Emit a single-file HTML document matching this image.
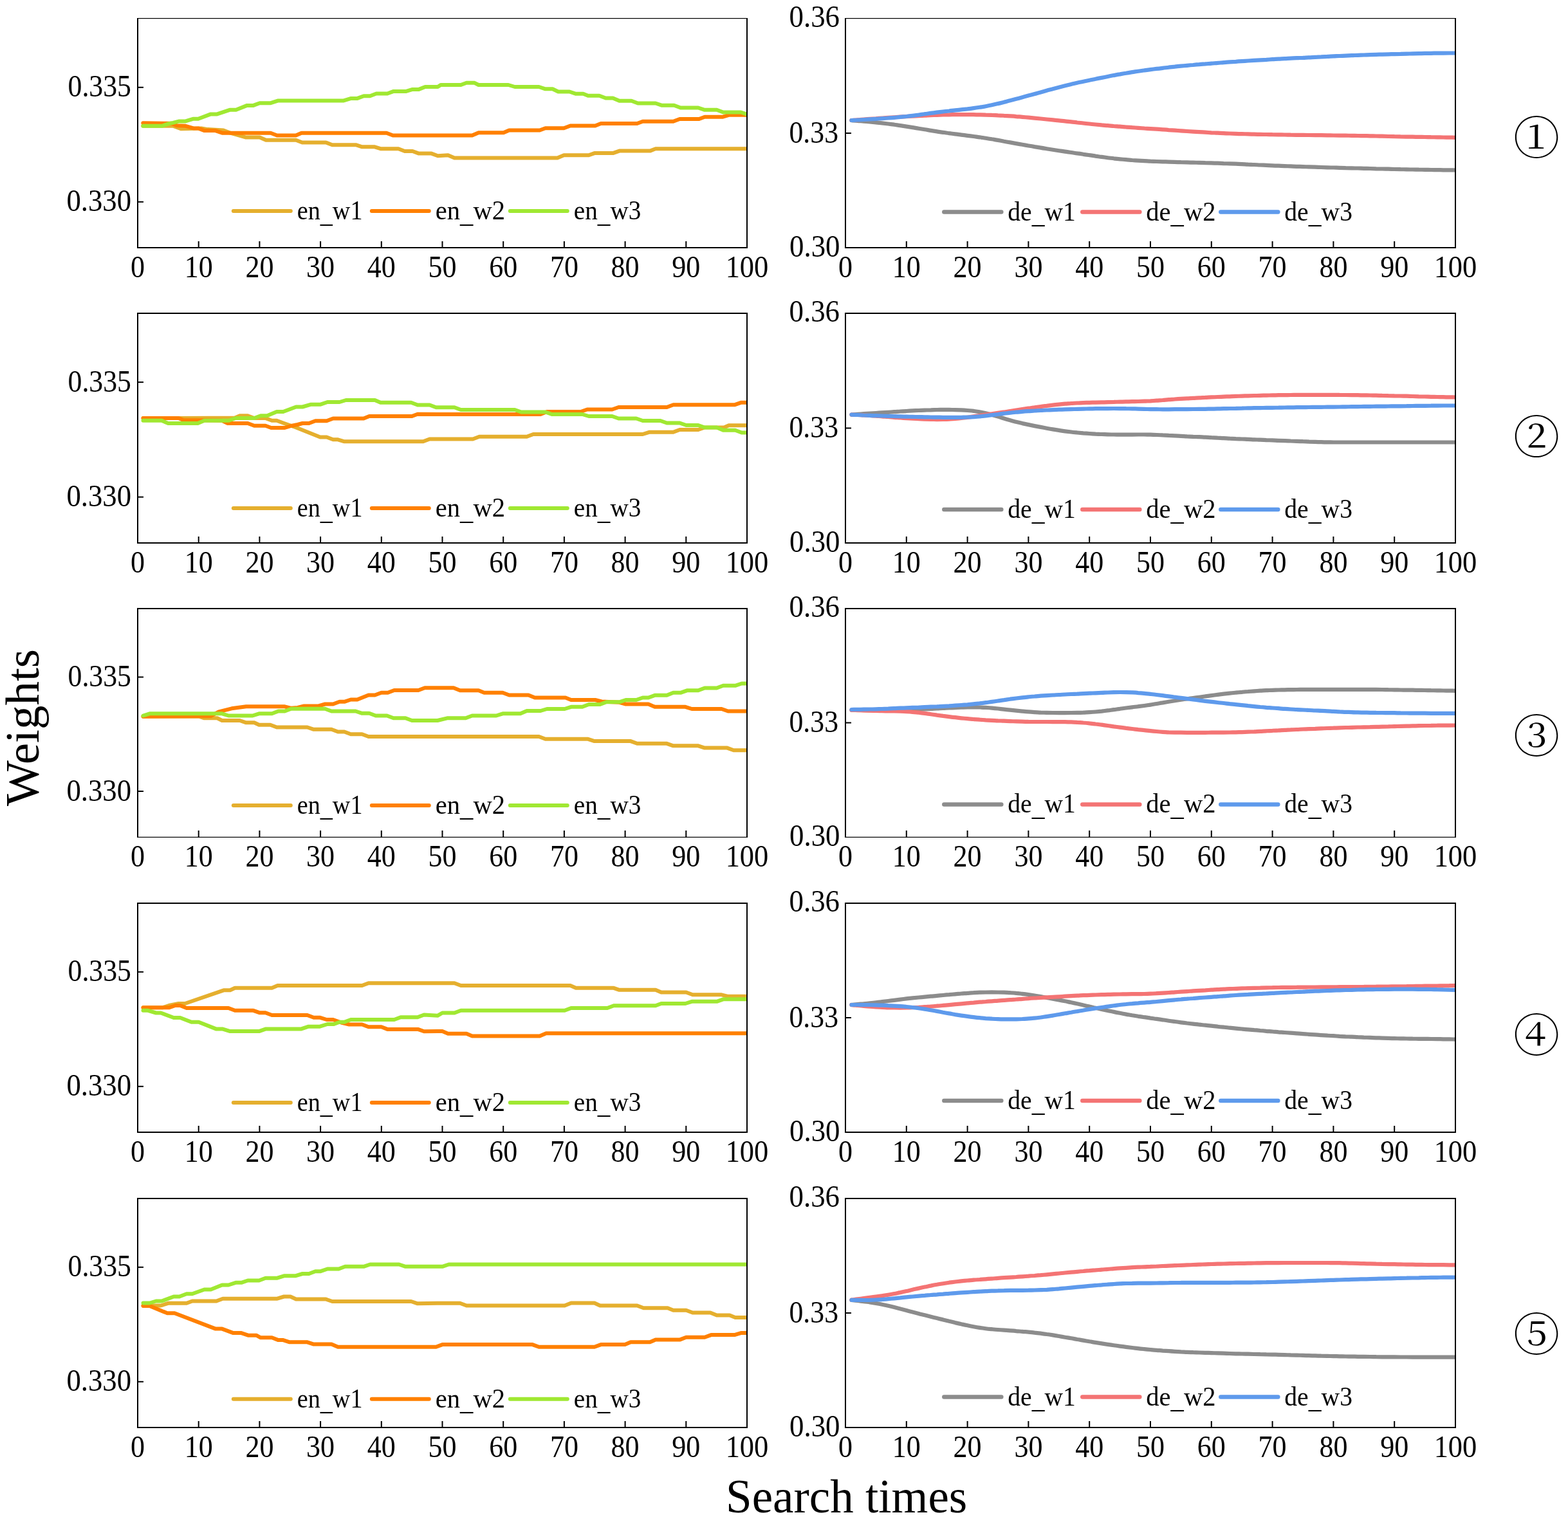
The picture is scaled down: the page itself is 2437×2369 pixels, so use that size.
<!DOCTYPE html><html><head><meta charset="utf-8"><style>html,body{margin:0;padding:0;background:#fff;overflow:hidden}svg{display:block}</style></head><body>
<svg width="2437" height="2369" viewBox="0 0 2437 2369">
<rect width="2437" height="2369" fill="#fff"/>
<clipPath id="c0L"><rect x="214" y="28" width="947" height="358"/></clipPath>
<g clip-path="url(#c0L)">
<path d="M222.3,195.8 L268.8,195.8 L281.1,200.2 L312.9,199.4 L322.7,201.1 L347.2,202.6 L357.0,206.3 L366.8,209.2 L381.5,213.4 L403.6,213.4 L413.4,217.8 L459.9,217.8 L469.7,221.5 L506.5,221.5 L516.3,225.2 L553.0,225.2 L562.8,228.3 L582.4,228.3 L592.2,231.3 L619.2,231.3 L629.0,235.0 L641.2,235.0 L651.0,238.6 L670.6,238.6 L680.4,242.3 L696.3,241.3 L706.3,245.6 L866.3,245.6 L876.4,241.3 L915.1,241.3 L923.9,238.1 L952.6,238.1 L962.6,234.6 L1010.2,234.6 L1018.9,231.3 L1160.2,231.3" fill="none" stroke="#E5AF2E" stroke-width="6" stroke-linejoin="round" stroke-linecap="round"/>
<path d="M222.3,191.3 L266.4,191.8 L274.9,195.3 L288.4,195.8 L300.7,199.4 L308.0,199.4 L317.8,203.1 L335.0,203.1 L346.0,206.8 L420.7,206.8 L430.5,210.5 L459.9,210.5 L468.5,206.8 L600.8,206.8 L610.6,210.5 L733.8,210.6 L743.8,206.3 L782.6,206.3 L791.3,202.5 L838.8,202.5 L847.6,199.3 L876.4,199.3 L886.4,195.5 L925.1,195.5 L933.9,192.0 L990.2,192.0 L998.9,188.8 L1046.4,188.8 L1056.4,185.0 L1086.5,185.0 L1095.2,181.8 L1122.7,181.8 L1132.7,178.8 L1160.2,178.8" fill="none" stroke="#FF8000" stroke-width="6" stroke-linejoin="round" stroke-linecap="round"/>
<path d="M222.3,195.8 L251.7,195.8 L262.7,192.1 L268.8,190.9 L278.6,188.4 L288.4,188.4 L300.7,184.7 L308.0,184.7 L327.6,177.4 L337.4,177.4 L357.0,170.8 L366.8,170.8 L384.0,163.9 L393.8,163.9 L403.6,160.2 L420.7,160.2 L431.7,156.6 L533.4,156.6 L545.7,152.9 L555.5,152.9 L565.3,149.2 L575.1,149.2 L584.9,145.5 L602.0,145.5 L611.8,141.9 L631.4,141.9 L641.2,138.9 L651.0,138.9 L660.8,135.0 L680.4,135.0 L685.0,132.0 L716.3,132.0 L725.0,128.8 L737.5,128.8 L743.8,132.0 L790.1,132.0 L800.1,135.0 L837.6,135.0 L847.6,138.3 L858.8,138.3 L867.6,142.5 L885.1,142.5 L895.1,145.8 L906.4,145.8 L913.9,148.8 L931.4,148.8 L941.4,152.5 L952.6,152.5 L962.6,156.8 L981.4,156.8 L991.4,160.5 L1018.9,160.5 L1028.9,163.8 L1047.7,163.8 L1057.7,167.5 L1085.2,167.5 L1095.2,170.8 L1114.0,170.8 L1124.0,174.5 L1151.5,174.5 L1160.2,177.5" fill="none" stroke="#A0E832" stroke-width="6" stroke-linejoin="round" stroke-linecap="round"/>
</g>
<rect x="213" y="28" width="949" height="1.2" fill="#000"/>
<rect x="213" y="384" width="949" height="2" fill="#000"/>
<rect x="213" y="28" width="2" height="358" fill="#000"/>
<rect x="1160" y="28" width="2" height="358" fill="#000"/>
<text x="214.00" y="431" text-anchor="middle" font-family="'Liberation Serif','Times New Roman',serif" font-size="47.5" textLength="22" lengthAdjust="spacingAndGlyphs">0</text>
<rect x="307.70" y="375" width="2" height="10" fill="#000"/>
<text x="308.70" y="431" text-anchor="middle" font-family="'Liberation Serif','Times New Roman',serif" font-size="47.5" textLength="44" lengthAdjust="spacingAndGlyphs">10</text>
<rect x="402.40" y="375" width="2" height="10" fill="#000"/>
<text x="403.40" y="431" text-anchor="middle" font-family="'Liberation Serif','Times New Roman',serif" font-size="47.5" textLength="44" lengthAdjust="spacingAndGlyphs">20</text>
<rect x="497.10" y="375" width="2" height="10" fill="#000"/>
<text x="498.10" y="431" text-anchor="middle" font-family="'Liberation Serif','Times New Roman',serif" font-size="47.5" textLength="44" lengthAdjust="spacingAndGlyphs">30</text>
<rect x="591.80" y="375" width="2" height="10" fill="#000"/>
<text x="592.80" y="431" text-anchor="middle" font-family="'Liberation Serif','Times New Roman',serif" font-size="47.5" textLength="44" lengthAdjust="spacingAndGlyphs">40</text>
<rect x="686.50" y="375" width="2" height="10" fill="#000"/>
<text x="687.50" y="431" text-anchor="middle" font-family="'Liberation Serif','Times New Roman',serif" font-size="47.5" textLength="44" lengthAdjust="spacingAndGlyphs">50</text>
<rect x="781.20" y="375" width="2" height="10" fill="#000"/>
<text x="782.20" y="431" text-anchor="middle" font-family="'Liberation Serif','Times New Roman',serif" font-size="47.5" textLength="44" lengthAdjust="spacingAndGlyphs">60</text>
<rect x="875.90" y="375" width="2" height="10" fill="#000"/>
<text x="876.90" y="431" text-anchor="middle" font-family="'Liberation Serif','Times New Roman',serif" font-size="47.5" textLength="44" lengthAdjust="spacingAndGlyphs">70</text>
<rect x="970.60" y="375" width="2" height="10" fill="#000"/>
<text x="971.60" y="431" text-anchor="middle" font-family="'Liberation Serif','Times New Roman',serif" font-size="47.5" textLength="44" lengthAdjust="spacingAndGlyphs">80</text>
<rect x="1065.30" y="375" width="2" height="10" fill="#000"/>
<text x="1066.30" y="431" text-anchor="middle" font-family="'Liberation Serif','Times New Roman',serif" font-size="47.5" textLength="44" lengthAdjust="spacingAndGlyphs">90</text>
<text x="1161.00" y="431" text-anchor="middle" font-family="'Liberation Serif','Times New Roman',serif" font-size="47.5" textLength="66.7" lengthAdjust="spacingAndGlyphs">100</text>
<rect x="214" y="134.80" width="9" height="2" fill="#000"/>
<text x="204" y="150.30" text-anchor="end" font-family="'Liberation Serif','Times New Roman',serif" font-size="47.5" textLength="98.5" lengthAdjust="spacingAndGlyphs">0.335</text>
<rect x="214" y="312.80" width="9" height="2" fill="#000"/>
<text x="204" y="328.30" text-anchor="end" font-family="'Liberation Serif','Times New Roman',serif" font-size="47.5" textLength="100.5" lengthAdjust="spacingAndGlyphs">0.330</text>
<line x1="362.8" y1="328" x2="451.8" y2="328" stroke="#E5AF2E" stroke-width="6" stroke-linecap="round"/>
<text x="461.8" y="341" font-family="'Liberation Serif','Times New Roman',serif" font-size="41.5" textLength="101.7" lengthAdjust="spacingAndGlyphs">en<tspan dy="4.5">_</tspan><tspan dy="-4.5">w1</tspan></text>
<line x1="577.8" y1="328" x2="666.8" y2="328" stroke="#FF8000" stroke-width="6" stroke-linecap="round"/>
<text x="676.8" y="341" font-family="'Liberation Serif','Times New Roman',serif" font-size="41.5" textLength="108.2" lengthAdjust="spacingAndGlyphs">en<tspan dy="4.5">_</tspan><tspan dy="-4.5">w2</tspan></text>
<line x1="792.8" y1="328" x2="881.8" y2="328" stroke="#A0E832" stroke-width="6" stroke-linecap="round"/>
<text x="891.8" y="341" font-family="'Liberation Serif','Times New Roman',serif" font-size="41.5" textLength="104.6" lengthAdjust="spacingAndGlyphs">en<tspan dy="4.5">_</tspan><tspan dy="-4.5">w3</tspan></text>
<clipPath id="c0R"><rect x="1314" y="28" width="948" height="358"/></clipPath>
<g clip-path="url(#c0R)">
<path d="M1323.5,187.1 C1325.1,187.3 1329.8,187.6 1333.0,187.8 C1336.1,188.1 1339.3,188.3 1342.4,188.6 C1345.6,188.8 1348.8,189.1 1351.9,189.4 C1355.1,189.7 1358.2,190.0 1361.4,190.3 C1364.6,190.6 1367.7,191.0 1370.9,191.3 C1374.0,191.7 1377.2,192.1 1380.4,192.5 C1383.5,192.9 1386.7,193.3 1389.8,193.7 C1393.0,194.2 1396.2,194.6 1399.3,195.1 C1402.5,195.6 1405.6,196.1 1408.8,196.6 C1412.0,197.1 1415.1,197.6 1418.3,198.1 C1421.4,198.6 1424.6,199.2 1427.8,199.7 C1430.9,200.2 1434.1,200.8 1437.2,201.3 C1440.4,201.8 1443.6,202.4 1446.7,202.9 C1449.9,203.4 1453.0,203.9 1456.2,204.4 C1459.4,204.9 1462.5,205.4 1465.7,205.8 C1468.8,206.3 1472.0,206.7 1475.2,207.2 C1478.3,207.6 1481.5,208.0 1484.6,208.4 C1487.8,208.9 1491.0,209.2 1494.1,209.6 C1497.3,210.0 1500.4,210.4 1503.6,210.8 C1506.8,211.2 1509.9,211.6 1513.1,212.0 C1516.2,212.4 1519.4,212.9 1522.6,213.3 C1525.7,213.8 1528.9,214.2 1532.0,214.7 C1535.2,215.2 1538.4,215.7 1541.5,216.3 C1544.7,216.8 1547.8,217.4 1551.0,217.9 C1554.2,218.5 1557.3,219.1 1560.5,219.7 C1563.6,220.2 1566.8,220.8 1570.0,221.4 C1573.1,222.0 1576.3,222.6 1579.4,223.1 C1582.6,223.7 1585.8,224.3 1588.9,224.8 C1592.1,225.4 1595.2,225.9 1598.4,226.5 C1601.6,227.0 1604.7,227.5 1607.9,228.1 C1611.0,228.6 1614.2,229.1 1617.4,229.6 C1620.5,230.2 1623.7,230.7 1626.8,231.2 C1630.0,231.7 1633.2,232.2 1636.3,232.7 C1639.5,233.2 1642.6,233.7 1645.8,234.2 C1649.0,234.7 1652.1,235.1 1655.3,235.6 C1658.4,236.1 1661.6,236.5 1664.8,237.0 C1667.9,237.5 1671.1,237.9 1674.2,238.4 C1677.4,238.8 1680.6,239.3 1683.7,239.8 C1686.9,240.2 1690.0,240.7 1693.2,241.2 C1696.4,241.6 1699.5,242.1 1702.7,242.6 C1705.8,243.0 1709.0,243.5 1712.2,243.9 C1715.3,244.3 1718.5,244.8 1721.6,245.2 C1724.8,245.6 1728.0,245.9 1731.1,246.3 C1734.3,246.6 1737.4,247.0 1740.6,247.3 C1743.8,247.6 1746.9,247.9 1750.1,248.2 C1753.2,248.5 1756.4,248.7 1759.6,249.0 C1762.7,249.2 1765.9,249.4 1769.0,249.6 C1772.2,249.8 1775.4,250.0 1778.5,250.2 C1781.7,250.4 1784.8,250.5 1788.0,250.7 C1791.2,250.8 1794.3,250.9 1797.5,251.0 C1800.6,251.1 1803.8,251.2 1807.0,251.3 C1810.1,251.4 1813.3,251.5 1816.4,251.6 C1819.6,251.7 1822.8,251.8 1825.9,251.9 C1829.1,252.0 1832.2,252.1 1835.4,252.2 C1838.6,252.2 1841.7,252.3 1844.9,252.4 C1848.0,252.5 1851.2,252.6 1854.4,252.6 C1857.5,252.7 1860.7,252.8 1863.8,252.9 C1867.0,253.0 1870.2,253.1 1873.3,253.2 C1876.5,253.2 1879.6,253.3 1882.8,253.4 C1886.0,253.5 1889.1,253.6 1892.3,253.7 C1895.4,253.8 1898.6,253.9 1901.8,254.1 C1904.9,254.2 1908.1,254.3 1911.2,254.4 C1914.4,254.5 1917.6,254.6 1920.7,254.7 C1923.9,254.9 1927.0,255.0 1930.2,255.1 C1933.4,255.3 1936.5,255.4 1939.7,255.6 C1942.8,255.7 1946.0,255.9 1949.2,256.0 C1952.3,256.2 1955.5,256.3 1958.6,256.5 C1961.8,256.6 1965.0,256.8 1968.1,256.9 C1971.3,257.1 1974.4,257.2 1977.6,257.3 C1980.8,257.5 1983.9,257.6 1987.1,257.7 C1990.2,257.9 1993.4,258.0 1996.6,258.1 C1999.7,258.2 2002.9,258.3 2006.0,258.4 C2009.2,258.6 2012.4,258.7 2015.5,258.8 C2018.7,258.9 2021.8,259.0 2025.0,259.1 C2028.2,259.2 2031.3,259.3 2034.5,259.4 C2037.6,259.5 2040.8,259.6 2044.0,259.7 C2047.1,259.8 2050.3,259.9 2053.4,260.0 C2056.6,260.1 2059.8,260.2 2062.9,260.3 C2066.1,260.4 2069.2,260.5 2072.4,260.5 C2075.6,260.6 2078.7,260.7 2081.9,260.8 C2085.0,260.9 2088.2,261.0 2091.4,261.1 C2094.5,261.1 2097.7,261.2 2100.8,261.3 C2104.0,261.4 2107.2,261.5 2110.3,261.5 C2113.5,261.6 2116.6,261.7 2119.8,261.8 C2123.0,261.9 2126.1,261.9 2129.3,262.0 C2132.4,262.1 2135.6,262.2 2138.8,262.3 C2141.9,262.3 2145.1,262.4 2148.2,262.5 C2151.4,262.6 2154.6,262.7 2157.7,262.7 C2160.9,262.8 2164.0,262.9 2167.2,263.0 C2170.4,263.0 2173.5,263.1 2176.7,263.2 C2179.8,263.2 2183.0,263.3 2186.2,263.3 C2189.3,263.4 2192.5,263.5 2195.6,263.5 C2198.8,263.6 2202.0,263.6 2205.1,263.7 C2208.3,263.7 2211.4,263.8 2214.6,263.8 C2217.8,263.9 2220.9,263.9 2224.1,264.0 C2227.2,264.0 2230.4,264.1 2233.6,264.1 C2236.7,264.2 2239.9,264.2 2243.0,264.3 C2246.2,264.3 2249.4,264.4 2252.5,264.4 C2255.7,264.4 2260.4,264.5 2262.0,264.5" fill="none" stroke="#8C8C8C" stroke-width="6.2" stroke-linejoin="round" stroke-linecap="round"/>
<path d="M1323.5,187.0 C1325.1,186.9 1329.8,186.5 1333.0,186.3 C1336.1,186.1 1339.3,185.9 1342.4,185.6 C1345.6,185.4 1348.8,185.2 1351.9,184.9 C1355.1,184.7 1358.2,184.5 1361.4,184.3 C1364.6,184.0 1367.7,183.8 1370.9,183.6 C1374.0,183.4 1377.2,183.2 1380.4,182.9 C1383.5,182.7 1386.7,182.5 1389.8,182.3 C1393.0,182.1 1396.2,181.9 1399.3,181.7 C1402.5,181.5 1405.6,181.3 1408.8,181.1 C1412.0,181.0 1415.1,180.8 1418.3,180.6 C1421.4,180.4 1424.6,180.2 1427.8,180.1 C1430.9,179.9 1434.1,179.7 1437.2,179.6 C1440.4,179.4 1443.6,179.3 1446.7,179.1 C1449.9,179.0 1453.0,178.9 1456.2,178.8 C1459.4,178.7 1462.5,178.6 1465.7,178.5 C1468.8,178.4 1472.0,178.3 1475.2,178.3 C1478.3,178.2 1481.5,178.2 1484.6,178.1 C1487.8,178.1 1491.0,178.1 1494.1,178.1 C1497.3,178.1 1500.4,178.1 1503.6,178.1 C1506.8,178.1 1509.9,178.2 1513.1,178.2 C1516.2,178.3 1519.4,178.3 1522.6,178.4 C1525.7,178.4 1528.9,178.5 1532.0,178.6 C1535.2,178.6 1538.4,178.7 1541.5,178.9 C1544.7,179.0 1547.8,179.1 1551.0,179.3 C1554.2,179.4 1557.3,179.6 1560.5,179.8 C1563.6,179.9 1566.8,180.1 1570.0,180.4 C1573.1,180.6 1576.3,180.8 1579.4,181.1 C1582.6,181.3 1585.8,181.6 1588.9,181.8 C1592.1,182.1 1595.2,182.4 1598.4,182.7 C1601.6,183.0 1604.7,183.3 1607.9,183.6 C1611.0,183.9 1614.2,184.2 1617.4,184.5 C1620.5,184.8 1623.7,185.2 1626.8,185.5 C1630.0,185.8 1633.2,186.1 1636.3,186.4 C1639.5,186.8 1642.6,187.1 1645.8,187.4 C1649.0,187.7 1652.1,188.1 1655.3,188.4 C1658.4,188.7 1661.6,189.1 1664.8,189.4 C1667.9,189.8 1671.1,190.1 1674.2,190.5 C1677.4,190.8 1680.6,191.2 1683.7,191.5 C1686.9,191.9 1690.0,192.2 1693.2,192.5 C1696.4,192.9 1699.5,193.2 1702.7,193.5 C1705.8,193.8 1709.0,194.1 1712.2,194.4 C1715.3,194.7 1718.5,194.9 1721.6,195.2 C1724.8,195.5 1728.0,195.7 1731.1,196.0 C1734.3,196.2 1737.4,196.5 1740.6,196.7 C1743.8,197.0 1746.9,197.2 1750.1,197.5 C1753.2,197.7 1756.4,197.9 1759.6,198.2 C1762.7,198.4 1765.9,198.6 1769.0,198.8 C1772.2,199.0 1775.4,199.2 1778.5,199.5 C1781.7,199.7 1784.8,199.9 1788.0,200.1 C1791.2,200.3 1794.3,200.5 1797.5,200.7 C1800.6,201.0 1803.8,201.2 1807.0,201.4 C1810.1,201.6 1813.3,201.8 1816.4,202.1 C1819.6,202.3 1822.8,202.5 1825.9,202.7 C1829.1,202.9 1832.2,203.1 1835.4,203.3 C1838.6,203.6 1841.7,203.8 1844.9,204.0 C1848.0,204.2 1851.2,204.4 1854.4,204.6 C1857.5,204.8 1860.7,205.0 1863.8,205.2 C1867.0,205.4 1870.2,205.6 1873.3,205.7 C1876.5,205.9 1879.6,206.1 1882.8,206.3 C1886.0,206.4 1889.1,206.6 1892.3,206.7 C1895.4,206.9 1898.6,207.0 1901.8,207.1 C1904.9,207.3 1908.1,207.4 1911.2,207.5 C1914.4,207.6 1917.6,207.7 1920.7,207.8 C1923.9,208.0 1927.0,208.1 1930.2,208.1 C1933.4,208.2 1936.5,208.3 1939.7,208.4 C1942.8,208.5 1946.0,208.6 1949.2,208.6 C1952.3,208.7 1955.5,208.8 1958.6,208.8 C1961.8,208.9 1965.0,209.0 1968.1,209.0 C1971.3,209.1 1974.4,209.1 1977.6,209.2 C1980.8,209.2 1983.9,209.3 1987.1,209.4 C1990.2,209.4 1993.4,209.5 1996.6,209.5 C1999.7,209.6 2002.9,209.6 2006.0,209.7 C2009.2,209.7 2012.4,209.7 2015.5,209.8 C2018.7,209.8 2021.8,209.9 2025.0,209.9 C2028.2,210.0 2031.3,210.0 2034.5,210.0 C2037.6,210.1 2040.8,210.1 2044.0,210.1 C2047.1,210.2 2050.3,210.2 2053.4,210.2 C2056.6,210.3 2059.8,210.3 2062.9,210.3 C2066.1,210.4 2069.2,210.4 2072.4,210.5 C2075.6,210.5 2078.7,210.5 2081.9,210.6 C2085.0,210.6 2088.2,210.7 2091.4,210.7 C2094.5,210.7 2097.7,210.8 2100.8,210.8 C2104.0,210.9 2107.2,210.9 2110.3,211.0 C2113.5,211.0 2116.6,211.1 2119.8,211.1 C2123.0,211.2 2126.1,211.2 2129.3,211.3 C2132.4,211.4 2135.6,211.4 2138.8,211.5 C2141.9,211.6 2145.1,211.7 2148.2,211.7 C2151.4,211.8 2154.6,211.9 2157.7,212.0 C2160.9,212.0 2164.0,212.1 2167.2,212.2 C2170.4,212.2 2173.5,212.3 2176.7,212.4 C2179.8,212.4 2183.0,212.5 2186.2,212.6 C2189.3,212.6 2192.5,212.7 2195.6,212.7 C2198.8,212.8 2202.0,212.8 2205.1,212.9 C2208.3,212.9 2211.4,213.0 2214.6,213.0 C2217.8,213.1 2220.9,213.1 2224.1,213.2 C2227.2,213.2 2230.4,213.3 2233.6,213.3 C2236.7,213.4 2239.9,213.4 2243.0,213.5 C2246.2,213.5 2249.4,213.6 2252.5,213.6 C2255.7,213.7 2260.4,213.7 2262.0,213.8" fill="none" stroke="#F47474" stroke-width="6.2" stroke-linejoin="round" stroke-linecap="round"/>
<path d="M1323.5,187.0 C1325.1,186.9 1329.8,186.7 1333.0,186.5 C1336.1,186.3 1339.3,186.2 1342.4,186.0 C1345.6,185.8 1348.8,185.6 1351.9,185.4 C1355.1,185.2 1358.2,185.0 1361.4,184.8 C1364.6,184.6 1367.7,184.4 1370.9,184.2 C1374.0,184.0 1377.2,183.8 1380.4,183.5 C1383.5,183.3 1386.7,183.1 1389.8,182.8 C1393.0,182.5 1396.2,182.3 1399.3,181.9 C1402.5,181.6 1405.6,181.3 1408.8,181.0 C1412.0,180.6 1415.1,180.2 1418.3,179.8 C1421.4,179.4 1424.6,179.0 1427.8,178.6 C1430.9,178.1 1434.1,177.7 1437.2,177.2 C1440.4,176.8 1443.6,176.3 1446.7,175.9 C1449.9,175.5 1453.0,175.1 1456.2,174.7 C1459.4,174.3 1462.5,173.9 1465.7,173.5 C1468.8,173.2 1472.0,172.8 1475.2,172.5 C1478.3,172.1 1481.5,171.8 1484.6,171.4 C1487.8,171.1 1491.0,170.8 1494.1,170.4 C1497.3,170.1 1500.4,169.7 1503.6,169.4 C1506.8,169.0 1509.9,168.6 1513.1,168.2 C1516.2,167.8 1519.4,167.3 1522.6,166.8 C1525.7,166.3 1528.9,165.8 1532.0,165.2 C1535.2,164.6 1538.4,164.0 1541.5,163.3 C1544.7,162.6 1547.8,161.9 1551.0,161.1 C1554.2,160.4 1557.3,159.6 1560.5,158.8 C1563.6,158.0 1566.8,157.1 1570.0,156.3 C1573.1,155.5 1576.3,154.6 1579.4,153.8 C1582.6,153.0 1585.8,152.1 1588.9,151.2 C1592.1,150.4 1595.2,149.5 1598.4,148.6 C1601.6,147.8 1604.7,146.9 1607.9,146.0 C1611.0,145.2 1614.2,144.3 1617.4,143.4 C1620.5,142.6 1623.7,141.7 1626.8,140.8 C1630.0,140.0 1633.2,139.1 1636.3,138.3 C1639.5,137.4 1642.6,136.6 1645.8,135.7 C1649.0,134.9 1652.1,134.1 1655.3,133.3 C1658.4,132.5 1661.6,131.7 1664.8,130.9 C1667.9,130.2 1671.1,129.5 1674.2,128.7 C1677.4,128.0 1680.6,127.4 1683.7,126.7 C1686.9,126.0 1690.0,125.4 1693.2,124.7 C1696.4,124.1 1699.5,123.4 1702.7,122.8 C1705.8,122.1 1709.0,121.5 1712.2,120.9 C1715.3,120.3 1718.5,119.6 1721.6,119.0 C1724.8,118.4 1728.0,117.8 1731.1,117.1 C1734.3,116.5 1737.4,115.9 1740.6,115.4 C1743.8,114.8 1746.9,114.2 1750.1,113.7 C1753.2,113.1 1756.4,112.6 1759.6,112.1 C1762.7,111.6 1765.9,111.2 1769.0,110.7 C1772.2,110.2 1775.4,109.8 1778.5,109.4 C1781.7,108.9 1784.8,108.5 1788.0,108.1 C1791.2,107.7 1794.3,107.3 1797.5,106.9 C1800.6,106.6 1803.8,106.2 1807.0,105.8 C1810.1,105.4 1813.3,105.1 1816.4,104.7 C1819.6,104.4 1822.8,104.0 1825.9,103.7 C1829.1,103.3 1832.2,103.0 1835.4,102.7 C1838.6,102.4 1841.7,102.1 1844.9,101.8 C1848.0,101.5 1851.2,101.2 1854.4,101.0 C1857.5,100.7 1860.7,100.4 1863.8,100.2 C1867.0,99.9 1870.2,99.6 1873.3,99.4 C1876.5,99.1 1879.6,98.9 1882.8,98.6 C1886.0,98.4 1889.1,98.1 1892.3,97.9 C1895.4,97.6 1898.6,97.4 1901.8,97.1 C1904.9,96.9 1908.1,96.7 1911.2,96.4 C1914.4,96.2 1917.6,96.0 1920.7,95.8 C1923.9,95.5 1927.0,95.3 1930.2,95.1 C1933.4,94.9 1936.5,94.7 1939.7,94.5 C1942.8,94.3 1946.0,94.1 1949.2,93.9 C1952.3,93.7 1955.5,93.5 1958.6,93.3 C1961.8,93.1 1965.0,92.9 1968.1,92.8 C1971.3,92.6 1974.4,92.4 1977.6,92.2 C1980.8,92.0 1983.9,91.9 1987.1,91.7 C1990.2,91.5 1993.4,91.4 1996.6,91.2 C1999.7,91.0 2002.9,90.9 2006.0,90.7 C2009.2,90.6 2012.4,90.4 2015.5,90.2 C2018.7,90.1 2021.8,89.9 2025.0,89.8 C2028.2,89.6 2031.3,89.5 2034.5,89.3 C2037.6,89.1 2040.8,89.0 2044.0,88.8 C2047.1,88.7 2050.3,88.5 2053.4,88.4 C2056.6,88.2 2059.8,88.0 2062.9,87.9 C2066.1,87.7 2069.2,87.6 2072.4,87.4 C2075.6,87.3 2078.7,87.1 2081.9,87.0 C2085.0,86.9 2088.2,86.7 2091.4,86.6 C2094.5,86.5 2097.7,86.3 2100.8,86.2 C2104.0,86.1 2107.2,85.9 2110.3,85.8 C2113.5,85.7 2116.6,85.6 2119.8,85.5 C2123.0,85.3 2126.1,85.2 2129.3,85.1 C2132.4,85.0 2135.6,84.9 2138.8,84.8 C2141.9,84.7 2145.1,84.7 2148.2,84.6 C2151.4,84.5 2154.6,84.4 2157.7,84.3 C2160.9,84.2 2164.0,84.2 2167.2,84.1 C2170.4,84.0 2173.5,83.9 2176.7,83.9 C2179.8,83.8 2183.0,83.7 2186.2,83.6 C2189.3,83.5 2192.5,83.5 2195.6,83.4 C2198.8,83.3 2202.0,83.2 2205.1,83.1 C2208.3,83.1 2211.4,83.0 2214.6,82.9 C2217.8,82.9 2220.9,82.8 2224.1,82.8 C2227.2,82.7 2230.4,82.7 2233.6,82.6 C2236.7,82.6 2239.9,82.6 2243.0,82.6 C2246.2,82.5 2249.4,82.5 2252.5,82.5 C2255.7,82.5 2260.4,82.5 2262.0,82.5" fill="none" stroke="#5E9AEC" stroke-width="6.2" stroke-linejoin="round" stroke-linecap="round"/>
</g>
<rect x="1313" y="28" width="950" height="1.2" fill="#000"/>
<rect x="1313" y="384" width="950" height="2" fill="#000"/>
<rect x="1313" y="28" width="2" height="358" fill="#000"/>
<rect x="2261" y="28" width="2" height="358" fill="#000"/>
<text x="1314.00" y="431" text-anchor="middle" font-family="'Liberation Serif','Times New Roman',serif" font-size="47.5" textLength="22" lengthAdjust="spacingAndGlyphs">0</text>
<rect x="1407.80" y="375" width="2" height="10" fill="#000"/>
<text x="1408.80" y="431" text-anchor="middle" font-family="'Liberation Serif','Times New Roman',serif" font-size="47.5" textLength="44" lengthAdjust="spacingAndGlyphs">10</text>
<rect x="1502.60" y="375" width="2" height="10" fill="#000"/>
<text x="1503.60" y="431" text-anchor="middle" font-family="'Liberation Serif','Times New Roman',serif" font-size="47.5" textLength="44" lengthAdjust="spacingAndGlyphs">20</text>
<rect x="1597.40" y="375" width="2" height="10" fill="#000"/>
<text x="1598.40" y="431" text-anchor="middle" font-family="'Liberation Serif','Times New Roman',serif" font-size="47.5" textLength="44" lengthAdjust="spacingAndGlyphs">30</text>
<rect x="1692.20" y="375" width="2" height="10" fill="#000"/>
<text x="1693.20" y="431" text-anchor="middle" font-family="'Liberation Serif','Times New Roman',serif" font-size="47.5" textLength="44" lengthAdjust="spacingAndGlyphs">40</text>
<rect x="1787.00" y="375" width="2" height="10" fill="#000"/>
<text x="1788.00" y="431" text-anchor="middle" font-family="'Liberation Serif','Times New Roman',serif" font-size="47.5" textLength="44" lengthAdjust="spacingAndGlyphs">50</text>
<rect x="1881.80" y="375" width="2" height="10" fill="#000"/>
<text x="1882.80" y="431" text-anchor="middle" font-family="'Liberation Serif','Times New Roman',serif" font-size="47.5" textLength="44" lengthAdjust="spacingAndGlyphs">60</text>
<rect x="1976.60" y="375" width="2" height="10" fill="#000"/>
<text x="1977.60" y="431" text-anchor="middle" font-family="'Liberation Serif','Times New Roman',serif" font-size="47.5" textLength="44" lengthAdjust="spacingAndGlyphs">70</text>
<rect x="2071.40" y="375" width="2" height="10" fill="#000"/>
<text x="2072.40" y="431" text-anchor="middle" font-family="'Liberation Serif','Times New Roman',serif" font-size="47.5" textLength="44" lengthAdjust="spacingAndGlyphs">80</text>
<rect x="2166.20" y="375" width="2" height="10" fill="#000"/>
<text x="2167.20" y="431" text-anchor="middle" font-family="'Liberation Serif','Times New Roman',serif" font-size="47.5" textLength="44" lengthAdjust="spacingAndGlyphs">90</text>
<text x="2262.00" y="431" text-anchor="middle" font-family="'Liberation Serif','Times New Roman',serif" font-size="47.5" textLength="66.7" lengthAdjust="spacingAndGlyphs">100</text>
<text x="1305" y="42.30" text-anchor="end" font-family="'Liberation Serif','Times New Roman',serif" font-size="47.5" textLength="78.5" lengthAdjust="spacingAndGlyphs">0.36</text>
<rect x="1314" y="206.00" width="9" height="2" fill="#000"/>
<text x="1303" y="221.80" text-anchor="end" font-family="'Liberation Serif','Times New Roman',serif" font-size="47.5" textLength="76.5" lengthAdjust="spacingAndGlyphs">0.33</text>
<text x="1305.5" y="399.00" text-anchor="end" font-family="'Liberation Serif','Times New Roman',serif" font-size="47.5" textLength="78.5" lengthAdjust="spacingAndGlyphs">0.30</text>
<line x1="1467.3" y1="329.5" x2="1556.3" y2="329.5" stroke="#8C8C8C" stroke-width="6.5" stroke-linecap="round"/>
<text x="1566.3" y="342.5" font-family="'Liberation Serif','Times New Roman',serif" font-size="41.5" textLength="105.6" lengthAdjust="spacingAndGlyphs">de<tspan dy="4.5">_</tspan><tspan dy="-4.5">w1</tspan></text>
<line x1="1682.3" y1="329.5" x2="1771.3" y2="329.5" stroke="#F47474" stroke-width="6.5" stroke-linecap="round"/>
<text x="1781.3" y="342.5" font-family="'Liberation Serif','Times New Roman',serif" font-size="41.5" textLength="108.2" lengthAdjust="spacingAndGlyphs">de<tspan dy="4.5">_</tspan><tspan dy="-4.5">w2</tspan></text>
<line x1="1897.3" y1="329.5" x2="1986.3" y2="329.5" stroke="#5E9AEC" stroke-width="6.5" stroke-linecap="round"/>
<text x="1996.3" y="342.5" font-family="'Liberation Serif','Times New Roman',serif" font-size="41.5" textLength="105.7" lengthAdjust="spacingAndGlyphs">de<tspan dy="4.5">_</tspan><tspan dy="-4.5">w3</tspan></text>
<text transform="translate(2388,213.6) scale(0.978,0.948)" x="0" y="28.2" text-anchor="middle" font-family="'Liberation Serif','Noto Serif CJK SC',serif" font-size="73.8">①</text>
<clipPath id="c1L"><rect x="214" y="486" width="947" height="359"/></clipPath>
<g clip-path="url(#c1L)">
<path d="M222.5,650.0 L282.5,650.0 L365.1,649.5 L372.6,646.3 L385.1,646.3 L395.1,650.0 L412.6,650.0 L422.6,653.8 L430.1,653.8 L440.1,657.5 L460.1,664.5 L497.6,679.5 L507.7,679.5 L517.7,683.3 L525.2,683.3 L535.2,686.3 L657.7,686.3 L667.7,682.5 L680.0,682.5 L735.0,682.5 L745.0,678.8 L818.8,678.8 L828.8,675.0 L998.9,675.0 L1008.9,671.8 L1046.4,671.8 L1056.4,668.0 L1085.2,668.0 L1095.2,664.5 L1125.2,664.5 L1132.7,661.3 L1160.2,661.3" fill="none" stroke="#E5AF2E" stroke-width="6" stroke-linejoin="round" stroke-linecap="round"/>
<path d="M222.5,650.0 L277.5,650.0 L285.0,653.0 L345.1,653.8 L353.8,658.0 L385.1,658.0 L395.1,661.8 L412.6,661.8 L421.4,665.0 L442.6,665.0 L452.6,662.0 L462.6,660.0 L470.1,658.0 L480.1,658.0 L490.1,654.3 L507.7,654.3 L517.7,650.5 L565.2,650.5 L573.9,647.0 L640.2,647.0 L649.0,643.8 L680.0,644.0 L840.1,644.0 L850.1,640.0 L902.6,640.0 L912.6,636.5 L951.4,636.5 L961.4,633.0 L1036.4,633.0 L1046.4,629.3 L1141.5,629.3 L1151.5,625.8 L1160.2,625.8" fill="none" stroke="#FF8000" stroke-width="6" stroke-linejoin="round" stroke-linecap="round"/>
<path d="M222.5,653.8 L251.3,653.8 L261.3,658.0 L307.5,658.0 L317.6,653.8 L355.1,653.8 L366.3,650.0 L395.1,650.0 L405.1,646.3 L415.1,646.3 L430.1,640.0 L440.1,640.0 L460.1,632.5 L470.1,632.5 L482.6,628.8 L497.6,628.8 L508.9,625.0 L527.7,625.0 L537.7,622.0 L582.7,622.0 L591.4,625.8 L639.0,625.8 L649.0,629.5 L667.7,629.5 L677.7,633.3 L680.0,633.3 L706.3,633.3 L716.3,637.0 L800.1,637.0 L810.1,640.5 L847.6,640.5 L857.6,644.0 L905.1,644.0 L915.1,647.0 L951.4,647.0 L961.4,650.5 L988.9,650.5 L998.9,654.0 L1026.4,654.0 L1036.4,657.5 L1056.4,657.5 L1066.4,661.0 L1085.2,661.0 L1095.2,664.5 L1114.0,664.5 L1124.0,668.8 L1142.7,668.8 L1152.7,672.5 L1160.2,672.5" fill="none" stroke="#A0E832" stroke-width="6" stroke-linejoin="round" stroke-linecap="round"/>
</g>
<rect x="213" y="486" width="949" height="2" fill="#000"/>
<rect x="213" y="843" width="949" height="2" fill="#000"/>
<rect x="213" y="486" width="2" height="359" fill="#000"/>
<rect x="1160" y="486" width="2" height="359" fill="#000"/>
<text x="214.00" y="890" text-anchor="middle" font-family="'Liberation Serif','Times New Roman',serif" font-size="47.5" textLength="22" lengthAdjust="spacingAndGlyphs">0</text>
<rect x="307.70" y="834" width="2" height="10" fill="#000"/>
<text x="308.70" y="890" text-anchor="middle" font-family="'Liberation Serif','Times New Roman',serif" font-size="47.5" textLength="44" lengthAdjust="spacingAndGlyphs">10</text>
<rect x="402.40" y="834" width="2" height="10" fill="#000"/>
<text x="403.40" y="890" text-anchor="middle" font-family="'Liberation Serif','Times New Roman',serif" font-size="47.5" textLength="44" lengthAdjust="spacingAndGlyphs">20</text>
<rect x="497.10" y="834" width="2" height="10" fill="#000"/>
<text x="498.10" y="890" text-anchor="middle" font-family="'Liberation Serif','Times New Roman',serif" font-size="47.5" textLength="44" lengthAdjust="spacingAndGlyphs">30</text>
<rect x="591.80" y="834" width="2" height="10" fill="#000"/>
<text x="592.80" y="890" text-anchor="middle" font-family="'Liberation Serif','Times New Roman',serif" font-size="47.5" textLength="44" lengthAdjust="spacingAndGlyphs">40</text>
<rect x="686.50" y="834" width="2" height="10" fill="#000"/>
<text x="687.50" y="890" text-anchor="middle" font-family="'Liberation Serif','Times New Roman',serif" font-size="47.5" textLength="44" lengthAdjust="spacingAndGlyphs">50</text>
<rect x="781.20" y="834" width="2" height="10" fill="#000"/>
<text x="782.20" y="890" text-anchor="middle" font-family="'Liberation Serif','Times New Roman',serif" font-size="47.5" textLength="44" lengthAdjust="spacingAndGlyphs">60</text>
<rect x="875.90" y="834" width="2" height="10" fill="#000"/>
<text x="876.90" y="890" text-anchor="middle" font-family="'Liberation Serif','Times New Roman',serif" font-size="47.5" textLength="44" lengthAdjust="spacingAndGlyphs">70</text>
<rect x="970.60" y="834" width="2" height="10" fill="#000"/>
<text x="971.60" y="890" text-anchor="middle" font-family="'Liberation Serif','Times New Roman',serif" font-size="47.5" textLength="44" lengthAdjust="spacingAndGlyphs">80</text>
<rect x="1065.30" y="834" width="2" height="10" fill="#000"/>
<text x="1066.30" y="890" text-anchor="middle" font-family="'Liberation Serif','Times New Roman',serif" font-size="47.5" textLength="44" lengthAdjust="spacingAndGlyphs">90</text>
<text x="1161.00" y="890" text-anchor="middle" font-family="'Liberation Serif','Times New Roman',serif" font-size="47.5" textLength="66.7" lengthAdjust="spacingAndGlyphs">100</text>
<rect x="214" y="593.10" width="9" height="2" fill="#000"/>
<text x="204" y="608.60" text-anchor="end" font-family="'Liberation Serif','Times New Roman',serif" font-size="47.5" textLength="98.5" lengthAdjust="spacingAndGlyphs">0.335</text>
<rect x="214" y="771.60" width="9" height="2" fill="#000"/>
<text x="204" y="787.10" text-anchor="end" font-family="'Liberation Serif','Times New Roman',serif" font-size="47.5" textLength="100.5" lengthAdjust="spacingAndGlyphs">0.330</text>
<line x1="362.8" y1="790" x2="451.8" y2="790" stroke="#E5AF2E" stroke-width="6" stroke-linecap="round"/>
<text x="461.8" y="803" font-family="'Liberation Serif','Times New Roman',serif" font-size="41.5" textLength="101.7" lengthAdjust="spacingAndGlyphs">en<tspan dy="4.5">_</tspan><tspan dy="-4.5">w1</tspan></text>
<line x1="577.8" y1="790" x2="666.8" y2="790" stroke="#FF8000" stroke-width="6" stroke-linecap="round"/>
<text x="676.8" y="803" font-family="'Liberation Serif','Times New Roman',serif" font-size="41.5" textLength="108.2" lengthAdjust="spacingAndGlyphs">en<tspan dy="4.5">_</tspan><tspan dy="-4.5">w2</tspan></text>
<line x1="792.8" y1="790" x2="881.8" y2="790" stroke="#A0E832" stroke-width="6" stroke-linecap="round"/>
<text x="891.8" y="803" font-family="'Liberation Serif','Times New Roman',serif" font-size="41.5" textLength="104.6" lengthAdjust="spacingAndGlyphs">en<tspan dy="4.5">_</tspan><tspan dy="-4.5">w3</tspan></text>
<clipPath id="c1R"><rect x="1314" y="486" width="948" height="359"/></clipPath>
<g clip-path="url(#c1R)">
<path d="M1323.5,644.5 C1325.1,644.4 1329.8,644.0 1333.0,643.8 C1336.1,643.6 1339.3,643.4 1342.4,643.2 C1345.6,643.0 1348.8,642.8 1351.9,642.6 C1355.1,642.4 1358.2,642.2 1361.4,642.0 C1364.6,641.8 1367.7,641.6 1370.9,641.4 C1374.0,641.2 1377.2,641.0 1380.4,640.8 C1383.5,640.6 1386.7,640.4 1389.8,640.2 C1393.0,640.0 1396.2,639.7 1399.3,639.5 C1402.5,639.4 1405.6,639.2 1408.8,639.0 C1412.0,638.8 1415.1,638.6 1418.3,638.4 C1421.4,638.3 1424.6,638.1 1427.8,638.0 C1430.9,637.8 1434.1,637.7 1437.2,637.6 C1440.4,637.5 1443.6,637.3 1446.7,637.3 C1449.9,637.2 1453.0,637.1 1456.2,637.0 C1459.4,637.0 1462.5,636.9 1465.7,636.9 C1468.8,636.9 1472.0,636.9 1475.2,636.9 C1478.3,637.0 1481.5,637.0 1484.6,637.1 C1487.8,637.2 1491.0,637.3 1494.1,637.4 C1497.3,637.6 1500.4,637.8 1503.6,638.0 C1506.8,638.3 1509.9,638.5 1513.1,638.9 C1516.2,639.3 1519.4,639.7 1522.6,640.3 C1525.7,640.8 1528.9,641.5 1532.0,642.2 C1535.2,642.9 1538.4,643.8 1541.5,644.7 C1544.7,645.6 1547.8,646.6 1551.0,647.6 C1554.2,648.5 1557.3,649.6 1560.5,650.5 C1563.6,651.5 1566.8,652.4 1570.0,653.3 C1573.1,654.2 1576.3,655.0 1579.4,655.8 C1582.6,656.6 1585.8,657.3 1588.9,658.1 C1592.1,658.8 1595.2,659.4 1598.4,660.1 C1601.6,660.8 1604.7,661.4 1607.9,662.1 C1611.0,662.7 1614.2,663.3 1617.4,663.9 C1620.5,664.5 1623.7,665.1 1626.8,665.7 C1630.0,666.3 1633.2,666.9 1636.3,667.4 C1639.5,668.0 1642.6,668.5 1645.8,668.9 C1649.0,669.4 1652.1,669.9 1655.3,670.3 C1658.4,670.7 1661.6,671.1 1664.8,671.5 C1667.9,671.9 1671.1,672.2 1674.2,672.5 C1677.4,672.8 1680.6,673.1 1683.7,673.4 C1686.9,673.6 1690.0,673.8 1693.2,674.0 C1696.4,674.2 1699.5,674.4 1702.7,674.6 C1705.8,674.7 1709.0,674.9 1712.2,675.0 C1715.3,675.1 1718.5,675.2 1721.6,675.3 C1724.8,675.4 1728.0,675.5 1731.1,675.5 C1734.3,675.6 1737.4,675.6 1740.6,675.7 C1743.8,675.7 1746.9,675.7 1750.1,675.7 C1753.2,675.7 1756.4,675.6 1759.6,675.6 C1762.7,675.6 1765.9,675.6 1769.0,675.5 C1772.2,675.5 1775.4,675.5 1778.5,675.5 C1781.7,675.6 1784.8,675.6 1788.0,675.7 C1791.2,675.8 1794.3,675.9 1797.5,676.0 C1800.6,676.1 1803.8,676.2 1807.0,676.4 C1810.1,676.5 1813.3,676.7 1816.4,676.9 C1819.6,677.0 1822.8,677.2 1825.9,677.3 C1829.1,677.5 1832.2,677.7 1835.4,677.8 C1838.6,678.0 1841.7,678.1 1844.9,678.3 C1848.0,678.4 1851.2,678.6 1854.4,678.8 C1857.5,678.9 1860.7,679.1 1863.8,679.2 C1867.0,679.4 1870.2,679.5 1873.3,679.7 C1876.5,679.9 1879.6,680.0 1882.8,680.2 C1886.0,680.3 1889.1,680.5 1892.3,680.7 C1895.4,680.8 1898.6,681.0 1901.8,681.1 C1904.9,681.3 1908.1,681.4 1911.2,681.6 C1914.4,681.7 1917.6,681.9 1920.7,682.1 C1923.9,682.2 1927.0,682.3 1930.2,682.5 C1933.4,682.6 1936.5,682.8 1939.7,682.9 C1942.8,683.0 1946.0,683.2 1949.2,683.3 C1952.3,683.4 1955.5,683.6 1958.6,683.7 C1961.8,683.8 1965.0,683.9 1968.1,684.1 C1971.3,684.2 1974.4,684.3 1977.6,684.4 C1980.8,684.5 1983.9,684.7 1987.1,684.8 C1990.2,684.9 1993.4,685.0 1996.6,685.1 C1999.7,685.2 2002.9,685.3 2006.0,685.5 C2009.2,685.6 2012.4,685.7 2015.5,685.8 C2018.7,685.9 2021.8,686.0 2025.0,686.2 C2028.2,686.3 2031.3,686.4 2034.5,686.6 C2037.6,686.7 2040.8,686.8 2044.0,686.9 C2047.1,687.0 2050.3,687.1 2053.4,687.2 C2056.6,687.3 2059.8,687.3 2062.9,687.4 C2066.1,687.4 2069.2,687.5 2072.4,687.5 C2075.6,687.5 2078.7,687.5 2081.9,687.5 C2085.0,687.5 2088.2,687.5 2091.4,687.5 C2094.5,687.5 2097.7,687.5 2100.8,687.5 C2104.0,687.5 2107.2,687.5 2110.3,687.5 C2113.5,687.5 2116.6,687.5 2119.8,687.5 C2123.0,687.5 2126.1,687.5 2129.3,687.5 C2132.4,687.5 2135.6,687.5 2138.8,687.5 C2141.9,687.5 2145.1,687.5 2148.2,687.5 C2151.4,687.5 2154.6,687.5 2157.7,687.5 C2160.9,687.5 2164.0,687.5 2167.2,687.5 C2170.4,687.5 2173.5,687.5 2176.7,687.5 C2179.8,687.5 2183.0,687.5 2186.2,687.5 C2189.3,687.5 2192.5,687.5 2195.6,687.5 C2198.8,687.5 2202.0,687.5 2205.1,687.5 C2208.3,687.5 2211.4,687.5 2214.6,687.5 C2217.8,687.5 2220.9,687.5 2224.1,687.5 C2227.2,687.5 2230.4,687.5 2233.6,687.5 C2236.7,687.5 2239.9,687.5 2243.0,687.5 C2246.2,687.5 2249.4,687.5 2252.5,687.5 C2255.7,687.5 2260.4,687.5 2262.0,687.5" fill="none" stroke="#8C8C8C" stroke-width="6.2" stroke-linejoin="round" stroke-linecap="round"/>
<path d="M1323.5,644.6 C1325.1,644.6 1329.8,644.9 1333.0,645.0 C1336.1,645.2 1339.3,645.3 1342.4,645.5 C1345.6,645.7 1348.8,645.8 1351.9,646.0 C1355.1,646.2 1358.2,646.4 1361.4,646.6 C1364.6,646.8 1367.7,647.1 1370.9,647.3 C1374.0,647.5 1377.2,647.8 1380.4,648.0 C1383.5,648.3 1386.7,648.5 1389.8,648.8 C1393.0,649.0 1396.2,649.3 1399.3,649.5 C1402.5,649.7 1405.6,649.9 1408.8,650.1 C1412.0,650.3 1415.1,650.5 1418.3,650.7 C1421.4,650.9 1424.6,651.1 1427.8,651.2 C1430.9,651.4 1434.1,651.5 1437.2,651.6 C1440.4,651.7 1443.6,651.8 1446.7,651.9 C1449.9,652.0 1453.0,652.0 1456.2,652.1 C1459.4,652.1 1462.5,652.1 1465.7,652.0 C1468.8,651.9 1472.0,651.8 1475.2,651.6 C1478.3,651.5 1481.5,651.2 1484.6,651.0 C1487.8,650.7 1491.0,650.4 1494.1,650.0 C1497.3,649.6 1500.4,649.2 1503.6,648.8 C1506.8,648.3 1509.9,647.9 1513.1,647.4 C1516.2,646.9 1519.4,646.5 1522.6,646.0 C1525.7,645.5 1528.9,645.1 1532.0,644.6 C1535.2,644.2 1538.4,643.7 1541.5,643.3 C1544.7,642.8 1547.8,642.4 1551.0,641.9 C1554.2,641.5 1557.3,641.0 1560.5,640.5 C1563.6,640.0 1566.8,639.6 1570.0,639.1 C1573.1,638.6 1576.3,638.1 1579.4,637.6 C1582.6,637.1 1585.8,636.6 1588.9,636.1 C1592.1,635.6 1595.2,635.1 1598.4,634.6 C1601.6,634.2 1604.7,633.7 1607.9,633.3 C1611.0,632.8 1614.2,632.4 1617.4,632.0 C1620.5,631.6 1623.7,631.1 1626.8,630.8 C1630.0,630.4 1633.2,630.0 1636.3,629.6 C1639.5,629.2 1642.6,628.9 1645.8,628.6 C1649.0,628.3 1652.1,628.0 1655.3,627.7 C1658.4,627.5 1661.6,627.2 1664.8,627.0 C1667.9,626.8 1671.1,626.7 1674.2,626.5 C1677.4,626.4 1680.6,626.2 1683.7,626.1 C1686.9,626.0 1690.0,625.9 1693.2,625.8 C1696.4,625.7 1699.5,625.7 1702.7,625.6 C1705.8,625.5 1709.0,625.4 1712.2,625.3 C1715.3,625.3 1718.5,625.2 1721.6,625.1 C1724.8,625.0 1728.0,624.9 1731.1,624.9 C1734.3,624.8 1737.4,624.7 1740.6,624.6 C1743.8,624.6 1746.9,624.5 1750.1,624.4 C1753.2,624.4 1756.4,624.3 1759.6,624.2 C1762.7,624.2 1765.9,624.1 1769.0,624.0 C1772.2,623.9 1775.4,623.8 1778.5,623.7 C1781.7,623.6 1784.8,623.4 1788.0,623.3 C1791.2,623.1 1794.3,622.9 1797.5,622.7 C1800.6,622.5 1803.8,622.2 1807.0,622.0 C1810.1,621.7 1813.3,621.5 1816.4,621.2 C1819.6,621.0 1822.8,620.7 1825.9,620.5 C1829.1,620.3 1832.2,620.1 1835.4,619.9 C1838.6,619.7 1841.7,619.5 1844.9,619.3 C1848.0,619.1 1851.2,619.0 1854.4,618.8 C1857.5,618.6 1860.7,618.5 1863.8,618.3 C1867.0,618.2 1870.2,618.0 1873.3,617.9 C1876.5,617.7 1879.6,617.6 1882.8,617.4 C1886.0,617.3 1889.1,617.2 1892.3,617.0 C1895.4,616.9 1898.6,616.8 1901.8,616.6 C1904.9,616.5 1908.1,616.4 1911.2,616.3 C1914.4,616.1 1917.6,616.0 1920.7,615.9 C1923.9,615.8 1927.0,615.7 1930.2,615.6 C1933.4,615.5 1936.5,615.4 1939.7,615.3 C1942.8,615.2 1946.0,615.1 1949.2,615.0 C1952.3,615.0 1955.5,614.9 1958.6,614.8 C1961.8,614.7 1965.0,614.7 1968.1,614.6 C1971.3,614.5 1974.4,614.5 1977.6,614.4 C1980.8,614.3 1983.9,614.3 1987.1,614.2 C1990.2,614.2 1993.4,614.1 1996.6,614.1 C1999.7,614.1 2002.9,614.0 2006.0,614.0 C2009.2,614.0 2012.4,613.9 2015.5,613.9 C2018.7,613.9 2021.8,613.9 2025.0,613.8 C2028.2,613.8 2031.3,613.8 2034.5,613.8 C2037.6,613.8 2040.8,613.8 2044.0,613.8 C2047.1,613.8 2050.3,613.8 2053.4,613.8 C2056.6,613.8 2059.8,613.8 2062.9,613.8 C2066.1,613.8 2069.2,613.8 2072.4,613.8 C2075.6,613.8 2078.7,613.8 2081.9,613.9 C2085.0,613.9 2088.2,613.9 2091.4,614.0 C2094.5,614.0 2097.7,614.0 2100.8,614.1 C2104.0,614.1 2107.2,614.2 2110.3,614.2 C2113.5,614.3 2116.6,614.3 2119.8,614.4 C2123.0,614.4 2126.1,614.5 2129.3,614.5 C2132.4,614.6 2135.6,614.6 2138.8,614.7 C2141.9,614.8 2145.1,614.8 2148.2,614.9 C2151.4,614.9 2154.6,615.0 2157.7,615.1 C2160.9,615.1 2164.0,615.2 2167.2,615.3 C2170.4,615.3 2173.5,615.4 2176.7,615.5 C2179.8,615.6 2183.0,615.6 2186.2,615.7 C2189.3,615.8 2192.5,615.9 2195.6,616.0 C2198.8,616.1 2202.0,616.2 2205.1,616.3 C2208.3,616.3 2211.4,616.4 2214.6,616.5 C2217.8,616.6 2220.9,616.7 2224.1,616.8 C2227.2,616.9 2230.4,616.9 2233.6,617.0 C2236.7,617.1 2239.9,617.1 2243.0,617.2 C2246.2,617.3 2249.4,617.3 2252.5,617.4 C2255.7,617.4 2260.4,617.5 2262.0,617.5" fill="none" stroke="#F47474" stroke-width="6.2" stroke-linejoin="round" stroke-linecap="round"/>
<path d="M1323.5,644.6 C1325.1,644.6 1329.8,644.9 1333.0,645.0 C1336.1,645.2 1339.3,645.3 1342.4,645.5 C1345.6,645.6 1348.8,645.7 1351.9,645.8 C1355.1,646.0 1358.2,646.1 1361.4,646.2 C1364.6,646.3 1367.7,646.4 1370.9,646.5 C1374.0,646.6 1377.2,646.7 1380.4,646.8 C1383.5,646.9 1386.7,647.0 1389.8,647.1 C1393.0,647.2 1396.2,647.3 1399.3,647.4 C1402.5,647.5 1405.6,647.6 1408.8,647.6 C1412.0,647.7 1415.1,647.8 1418.3,647.9 C1421.4,648.0 1424.6,648.0 1427.8,648.1 C1430.9,648.2 1434.1,648.2 1437.2,648.3 C1440.4,648.4 1443.6,648.4 1446.7,648.5 C1449.9,648.5 1453.0,648.6 1456.2,648.6 C1459.4,648.7 1462.5,648.7 1465.7,648.8 C1468.8,648.8 1472.0,648.8 1475.2,648.8 C1478.3,648.9 1481.5,648.9 1484.6,648.9 C1487.8,648.8 1491.0,648.8 1494.1,648.8 C1497.3,648.7 1500.4,648.7 1503.6,648.5 C1506.8,648.4 1509.9,648.3 1513.1,648.1 C1516.2,647.9 1519.4,647.7 1522.6,647.4 C1525.7,647.1 1528.9,646.7 1532.0,646.4 C1535.2,646.0 1538.4,645.6 1541.5,645.2 C1544.7,644.8 1547.8,644.4 1551.0,644.0 C1554.2,643.5 1557.3,643.1 1560.5,642.7 C1563.6,642.4 1566.8,642.0 1570.0,641.7 C1573.1,641.3 1576.3,641.0 1579.4,640.7 C1582.6,640.4 1585.8,640.2 1588.9,639.9 C1592.1,639.6 1595.2,639.4 1598.4,639.2 C1601.6,639.0 1604.7,638.7 1607.9,638.5 C1611.0,638.3 1614.2,638.2 1617.4,638.0 C1620.5,637.8 1623.7,637.7 1626.8,637.5 C1630.0,637.4 1633.2,637.2 1636.3,637.1 C1639.5,637.0 1642.6,636.9 1645.8,636.7 C1649.0,636.6 1652.1,636.5 1655.3,636.4 C1658.4,636.3 1661.6,636.2 1664.8,636.1 C1667.9,636.0 1671.1,636.0 1674.2,635.9 C1677.4,635.8 1680.6,635.7 1683.7,635.6 C1686.9,635.5 1690.0,635.5 1693.2,635.4 C1696.4,635.3 1699.5,635.3 1702.7,635.2 C1705.8,635.2 1709.0,635.2 1712.2,635.1 C1715.3,635.1 1718.5,635.1 1721.6,635.1 C1724.8,635.0 1728.0,635.0 1731.1,635.0 C1734.3,635.0 1737.4,635.0 1740.6,635.1 C1743.8,635.1 1746.9,635.1 1750.1,635.2 C1753.2,635.2 1756.4,635.3 1759.6,635.3 C1762.7,635.4 1765.9,635.5 1769.0,635.6 C1772.2,635.7 1775.4,635.8 1778.5,635.9 C1781.7,636.0 1784.8,636.0 1788.0,636.1 C1791.2,636.1 1794.3,636.2 1797.5,636.2 C1800.6,636.2 1803.8,636.3 1807.0,636.3 C1810.1,636.3 1813.3,636.3 1816.4,636.3 C1819.6,636.2 1822.8,636.2 1825.9,636.2 C1829.1,636.2 1832.2,636.2 1835.4,636.2 C1838.6,636.2 1841.7,636.1 1844.9,636.1 C1848.0,636.1 1851.2,636.1 1854.4,636.0 C1857.5,636.0 1860.7,636.0 1863.8,635.9 C1867.0,635.9 1870.2,635.8 1873.3,635.8 C1876.5,635.7 1879.6,635.7 1882.8,635.6 C1886.0,635.6 1889.1,635.5 1892.3,635.4 C1895.4,635.4 1898.6,635.3 1901.8,635.2 C1904.9,635.1 1908.1,635.1 1911.2,635.0 C1914.4,634.9 1917.6,634.8 1920.7,634.8 C1923.9,634.7 1927.0,634.6 1930.2,634.6 C1933.4,634.5 1936.5,634.5 1939.7,634.4 C1942.8,634.3 1946.0,634.3 1949.2,634.2 C1952.3,634.2 1955.5,634.1 1958.6,634.1 C1961.8,634.0 1965.0,634.0 1968.1,633.9 C1971.3,633.9 1974.4,633.9 1977.6,633.8 C1980.8,633.8 1983.9,633.7 1987.1,633.7 C1990.2,633.6 1993.4,633.6 1996.6,633.5 C1999.7,633.5 2002.9,633.4 2006.0,633.4 C2009.2,633.3 2012.4,633.3 2015.5,633.2 C2018.7,633.2 2021.8,633.2 2025.0,633.1 C2028.2,633.1 2031.3,633.0 2034.5,633.0 C2037.6,633.0 2040.8,632.9 2044.0,632.9 C2047.1,632.9 2050.3,632.8 2053.4,632.8 C2056.6,632.8 2059.8,632.7 2062.9,632.7 C2066.1,632.7 2069.2,632.6 2072.4,632.6 C2075.6,632.5 2078.7,632.5 2081.9,632.5 C2085.0,632.4 2088.2,632.4 2091.4,632.3 C2094.5,632.3 2097.7,632.2 2100.8,632.2 C2104.0,632.2 2107.2,632.1 2110.3,632.1 C2113.5,632.0 2116.6,632.0 2119.8,631.9 C2123.0,631.9 2126.1,631.8 2129.3,631.8 C2132.4,631.8 2135.6,631.7 2138.8,631.7 C2141.9,631.7 2145.1,631.6 2148.2,631.6 C2151.4,631.6 2154.6,631.5 2157.7,631.5 C2160.9,631.5 2164.0,631.4 2167.2,631.4 C2170.4,631.4 2173.5,631.3 2176.7,631.3 C2179.8,631.2 2183.0,631.2 2186.2,631.2 C2189.3,631.1 2192.5,631.1 2195.6,631.0 C2198.8,631.0 2202.0,630.9 2205.1,630.9 C2208.3,630.9 2211.4,630.8 2214.6,630.8 C2217.8,630.7 2220.9,630.7 2224.1,630.7 C2227.2,630.6 2230.4,630.6 2233.6,630.6 C2236.7,630.6 2239.9,630.6 2243.0,630.5 C2246.2,630.5 2249.4,630.5 2252.5,630.5 C2255.7,630.5 2260.4,630.5 2262.0,630.5" fill="none" stroke="#5E9AEC" stroke-width="6.2" stroke-linejoin="round" stroke-linecap="round"/>
</g>
<rect x="1313" y="486" width="950" height="2" fill="#000"/>
<rect x="1313" y="843" width="950" height="2" fill="#000"/>
<rect x="1313" y="486" width="2" height="359" fill="#000"/>
<rect x="2261" y="486" width="2" height="359" fill="#000"/>
<text x="1314.00" y="890" text-anchor="middle" font-family="'Liberation Serif','Times New Roman',serif" font-size="47.5" textLength="22" lengthAdjust="spacingAndGlyphs">0</text>
<rect x="1407.80" y="834" width="2" height="10" fill="#000"/>
<text x="1408.80" y="890" text-anchor="middle" font-family="'Liberation Serif','Times New Roman',serif" font-size="47.5" textLength="44" lengthAdjust="spacingAndGlyphs">10</text>
<rect x="1502.60" y="834" width="2" height="10" fill="#000"/>
<text x="1503.60" y="890" text-anchor="middle" font-family="'Liberation Serif','Times New Roman',serif" font-size="47.5" textLength="44" lengthAdjust="spacingAndGlyphs">20</text>
<rect x="1597.40" y="834" width="2" height="10" fill="#000"/>
<text x="1598.40" y="890" text-anchor="middle" font-family="'Liberation Serif','Times New Roman',serif" font-size="47.5" textLength="44" lengthAdjust="spacingAndGlyphs">30</text>
<rect x="1692.20" y="834" width="2" height="10" fill="#000"/>
<text x="1693.20" y="890" text-anchor="middle" font-family="'Liberation Serif','Times New Roman',serif" font-size="47.5" textLength="44" lengthAdjust="spacingAndGlyphs">40</text>
<rect x="1787.00" y="834" width="2" height="10" fill="#000"/>
<text x="1788.00" y="890" text-anchor="middle" font-family="'Liberation Serif','Times New Roman',serif" font-size="47.5" textLength="44" lengthAdjust="spacingAndGlyphs">50</text>
<rect x="1881.80" y="834" width="2" height="10" fill="#000"/>
<text x="1882.80" y="890" text-anchor="middle" font-family="'Liberation Serif','Times New Roman',serif" font-size="47.5" textLength="44" lengthAdjust="spacingAndGlyphs">60</text>
<rect x="1976.60" y="834" width="2" height="10" fill="#000"/>
<text x="1977.60" y="890" text-anchor="middle" font-family="'Liberation Serif','Times New Roman',serif" font-size="47.5" textLength="44" lengthAdjust="spacingAndGlyphs">70</text>
<rect x="2071.40" y="834" width="2" height="10" fill="#000"/>
<text x="2072.40" y="890" text-anchor="middle" font-family="'Liberation Serif','Times New Roman',serif" font-size="47.5" textLength="44" lengthAdjust="spacingAndGlyphs">80</text>
<rect x="2166.20" y="834" width="2" height="10" fill="#000"/>
<text x="2167.20" y="890" text-anchor="middle" font-family="'Liberation Serif','Times New Roman',serif" font-size="47.5" textLength="44" lengthAdjust="spacingAndGlyphs">90</text>
<text x="2262.00" y="890" text-anchor="middle" font-family="'Liberation Serif','Times New Roman',serif" font-size="47.5" textLength="66.7" lengthAdjust="spacingAndGlyphs">100</text>
<text x="1305" y="500.30" text-anchor="end" font-family="'Liberation Serif','Times New Roman',serif" font-size="47.5" textLength="78.5" lengthAdjust="spacingAndGlyphs">0.36</text>
<rect x="1314" y="664.50" width="9" height="2" fill="#000"/>
<text x="1303" y="680.30" text-anchor="end" font-family="'Liberation Serif','Times New Roman',serif" font-size="47.5" textLength="76.5" lengthAdjust="spacingAndGlyphs">0.33</text>
<text x="1305.5" y="858.00" text-anchor="end" font-family="'Liberation Serif','Times New Roman',serif" font-size="47.5" textLength="78.5" lengthAdjust="spacingAndGlyphs">0.30</text>
<line x1="1467.3" y1="791.9" x2="1556.3" y2="791.9" stroke="#8C8C8C" stroke-width="6.5" stroke-linecap="round"/>
<text x="1566.3" y="804.9" font-family="'Liberation Serif','Times New Roman',serif" font-size="41.5" textLength="105.6" lengthAdjust="spacingAndGlyphs">de<tspan dy="4.5">_</tspan><tspan dy="-4.5">w1</tspan></text>
<line x1="1682.3" y1="791.9" x2="1771.3" y2="791.9" stroke="#F47474" stroke-width="6.5" stroke-linecap="round"/>
<text x="1781.3" y="804.9" font-family="'Liberation Serif','Times New Roman',serif" font-size="41.5" textLength="108.2" lengthAdjust="spacingAndGlyphs">de<tspan dy="4.5">_</tspan><tspan dy="-4.5">w2</tspan></text>
<line x1="1897.3" y1="791.9" x2="1986.3" y2="791.9" stroke="#5E9AEC" stroke-width="6.5" stroke-linecap="round"/>
<text x="1996.3" y="804.9" font-family="'Liberation Serif','Times New Roman',serif" font-size="41.5" textLength="105.7" lengthAdjust="spacingAndGlyphs">de<tspan dy="4.5">_</tspan><tspan dy="-4.5">w3</tspan></text>
<text transform="translate(2388,678.6) scale(0.978,0.948)" x="0" y="28.2" text-anchor="middle" font-family="'Liberation Serif','Noto Serif CJK SC',serif" font-size="73.8">②</text>
<clipPath id="c2L"><rect x="214" y="945" width="947" height="357"/></clipPath>
<g clip-path="url(#c2L)">
<path d="M222.5,1113.8 L310.1,1113.8 L317.6,1116.3 L337.6,1116.3 L345.1,1120.0 L372.6,1120.0 L382.6,1123.3 L395.1,1123.3 L402.6,1126.8 L420.1,1126.8 L430.1,1130.5 L477.6,1130.5 L487.6,1133.8 L515.2,1133.8 L525.2,1137.5 L535.2,1137.5 L545.2,1141.3 L562.7,1141.3 L572.7,1145.0 L680.0,1145.0 L837.6,1145.0 L847.6,1148.8 L913.9,1148.8 L923.9,1152.1 L980.2,1152.1 L990.2,1155.8 L1036.4,1155.8 L1046.4,1159.3 L1085.2,1159.3 L1095.2,1162.6 L1130.2,1162.6 L1140.2,1166.3 L1160.2,1166.3" fill="none" stroke="#E5AF2E" stroke-width="6" stroke-linejoin="round" stroke-linecap="round"/>
<path d="M222.5,1113.8 L327.6,1113.0 L340.1,1106.3 L350.1,1103.8 L360.1,1101.3 L382.6,1098.3 L442.6,1098.3 L452.6,1100.8 L462.6,1100.0 L472.6,1097.5 L495.1,1097.5 L505.2,1094.5 L517.7,1094.5 L527.7,1090.8 L535.2,1090.8 L545.2,1087.5 L555.2,1087.5 L572.7,1080.5 L582.7,1080.5 L592.7,1076.8 L602.7,1076.8 L612.7,1073.0 L650.2,1073.0 L660.2,1069.3 L680.0,1069.3 L705.0,1069.3 L715.0,1073.3 L743.8,1073.3 L752.5,1076.8 L781.3,1076.8 L791.3,1080.5 L821.3,1080.5 L831.3,1084.5 L878.9,1084.5 L887.6,1088.0 L925.1,1088.0 L935.1,1090.5 L962.6,1091.8 L972.6,1094.5 L1007.7,1094.5 L1017.7,1098.8 L1065.2,1098.8 L1075.2,1102.0 L1121.5,1102.0 L1131.5,1105.5 L1160.2,1105.5" fill="none" stroke="#FF8000" stroke-width="6" stroke-linejoin="round" stroke-linecap="round"/>
<path d="M222.5,1112.5 L232.5,1109.3 L345.1,1109.3 L355.1,1112.5 L392.6,1112.5 L402.6,1109.3 L422.6,1109.3 L432.6,1105.5 L442.6,1105.5 L452.6,1101.8 L505.2,1101.8 L515.2,1105.5 L552.7,1105.5 L562.7,1108.8 L573.9,1108.8 L583.9,1112.5 L601.4,1112.5 L611.5,1116.3 L630.2,1116.3 L640.2,1120.0 L680.0,1120.0 L695.0,1116.3 L723.8,1116.3 L733.8,1112.5 L771.3,1112.5 L781.3,1109.3 L808.8,1109.3 L818.8,1105.0 L840.1,1105.0 L850.1,1102.0 L877.6,1102.0 L887.6,1098.8 L905.1,1098.8 L915.1,1095.0 L932.6,1095.0 L942.6,1091.3 L962.6,1091.3 L972.6,1088.0 L988.9,1088.0 L998.9,1084.5 L1007.7,1084.5 L1017.7,1080.8 L1036.4,1080.8 L1046.4,1076.8 L1057.7,1076.8 L1067.7,1073.3 L1085.2,1073.3 L1095.2,1069.5 L1114.0,1069.5 L1124.0,1065.8 L1142.7,1065.8 L1152.7,1062.5 L1160.2,1062.5" fill="none" stroke="#A0E832" stroke-width="6" stroke-linejoin="round" stroke-linecap="round"/>
</g>
<rect x="213" y="945" width="949" height="2" fill="#000"/>
<rect x="213" y="1300.8" width="949" height="1.2" fill="#000"/>
<rect x="213" y="945" width="2" height="357" fill="#000"/>
<rect x="1160" y="945" width="2" height="357" fill="#000"/>
<text x="214.00" y="1347" text-anchor="middle" font-family="'Liberation Serif','Times New Roman',serif" font-size="47.5" textLength="22" lengthAdjust="spacingAndGlyphs">0</text>
<rect x="307.70" y="1291" width="2" height="10" fill="#000"/>
<text x="308.70" y="1347" text-anchor="middle" font-family="'Liberation Serif','Times New Roman',serif" font-size="47.5" textLength="44" lengthAdjust="spacingAndGlyphs">10</text>
<rect x="402.40" y="1291" width="2" height="10" fill="#000"/>
<text x="403.40" y="1347" text-anchor="middle" font-family="'Liberation Serif','Times New Roman',serif" font-size="47.5" textLength="44" lengthAdjust="spacingAndGlyphs">20</text>
<rect x="497.10" y="1291" width="2" height="10" fill="#000"/>
<text x="498.10" y="1347" text-anchor="middle" font-family="'Liberation Serif','Times New Roman',serif" font-size="47.5" textLength="44" lengthAdjust="spacingAndGlyphs">30</text>
<rect x="591.80" y="1291" width="2" height="10" fill="#000"/>
<text x="592.80" y="1347" text-anchor="middle" font-family="'Liberation Serif','Times New Roman',serif" font-size="47.5" textLength="44" lengthAdjust="spacingAndGlyphs">40</text>
<rect x="686.50" y="1291" width="2" height="10" fill="#000"/>
<text x="687.50" y="1347" text-anchor="middle" font-family="'Liberation Serif','Times New Roman',serif" font-size="47.5" textLength="44" lengthAdjust="spacingAndGlyphs">50</text>
<rect x="781.20" y="1291" width="2" height="10" fill="#000"/>
<text x="782.20" y="1347" text-anchor="middle" font-family="'Liberation Serif','Times New Roman',serif" font-size="47.5" textLength="44" lengthAdjust="spacingAndGlyphs">60</text>
<rect x="875.90" y="1291" width="2" height="10" fill="#000"/>
<text x="876.90" y="1347" text-anchor="middle" font-family="'Liberation Serif','Times New Roman',serif" font-size="47.5" textLength="44" lengthAdjust="spacingAndGlyphs">70</text>
<rect x="970.60" y="1291" width="2" height="10" fill="#000"/>
<text x="971.60" y="1347" text-anchor="middle" font-family="'Liberation Serif','Times New Roman',serif" font-size="47.5" textLength="44" lengthAdjust="spacingAndGlyphs">80</text>
<rect x="1065.30" y="1291" width="2" height="10" fill="#000"/>
<text x="1066.30" y="1347" text-anchor="middle" font-family="'Liberation Serif','Times New Roman',serif" font-size="47.5" textLength="44" lengthAdjust="spacingAndGlyphs">90</text>
<text x="1161.00" y="1347" text-anchor="middle" font-family="'Liberation Serif','Times New Roman',serif" font-size="47.5" textLength="66.7" lengthAdjust="spacingAndGlyphs">100</text>
<rect x="214" y="1051.50" width="9" height="2" fill="#000"/>
<text x="204" y="1067.00" text-anchor="end" font-family="'Liberation Serif','Times New Roman',serif" font-size="47.5" textLength="98.5" lengthAdjust="spacingAndGlyphs">0.335</text>
<rect x="214" y="1229.00" width="9" height="2" fill="#000"/>
<text x="204" y="1244.50" text-anchor="end" font-family="'Liberation Serif','Times New Roman',serif" font-size="47.5" textLength="100.5" lengthAdjust="spacingAndGlyphs">0.330</text>
<line x1="362.8" y1="1251.9" x2="451.8" y2="1251.9" stroke="#E5AF2E" stroke-width="6" stroke-linecap="round"/>
<text x="461.8" y="1264.9" font-family="'Liberation Serif','Times New Roman',serif" font-size="41.5" textLength="101.7" lengthAdjust="spacingAndGlyphs">en<tspan dy="4.5">_</tspan><tspan dy="-4.5">w1</tspan></text>
<line x1="577.8" y1="1251.9" x2="666.8" y2="1251.9" stroke="#FF8000" stroke-width="6" stroke-linecap="round"/>
<text x="676.8" y="1264.9" font-family="'Liberation Serif','Times New Roman',serif" font-size="41.5" textLength="108.2" lengthAdjust="spacingAndGlyphs">en<tspan dy="4.5">_</tspan><tspan dy="-4.5">w2</tspan></text>
<line x1="792.8" y1="1251.9" x2="881.8" y2="1251.9" stroke="#A0E832" stroke-width="6" stroke-linecap="round"/>
<text x="891.8" y="1264.9" font-family="'Liberation Serif','Times New Roman',serif" font-size="41.5" textLength="104.6" lengthAdjust="spacingAndGlyphs">en<tspan dy="4.5">_</tspan><tspan dy="-4.5">w3</tspan></text>
<clipPath id="c2R"><rect x="1314" y="945" width="948" height="357"/></clipPath>
<g clip-path="url(#c2R)">
<path d="M1323.5,1103.8 C1325.1,1103.8 1329.8,1103.9 1333.0,1104.0 C1336.1,1104.0 1339.3,1104.1 1342.4,1104.2 C1345.6,1104.2 1348.8,1104.2 1351.9,1104.3 C1355.1,1104.3 1358.2,1104.3 1361.4,1104.3 C1364.6,1104.3 1367.7,1104.3 1370.9,1104.3 C1374.0,1104.3 1377.2,1104.2 1380.4,1104.2 C1383.5,1104.2 1386.7,1104.1 1389.8,1104.1 C1393.0,1104.0 1396.2,1103.9 1399.3,1103.9 C1402.5,1103.8 1405.6,1103.7 1408.8,1103.6 C1412.0,1103.5 1415.1,1103.4 1418.3,1103.3 C1421.4,1103.1 1424.6,1103.0 1427.8,1102.9 C1430.9,1102.7 1434.1,1102.6 1437.2,1102.4 C1440.4,1102.3 1443.6,1102.1 1446.7,1101.9 C1449.9,1101.8 1453.0,1101.6 1456.2,1101.5 C1459.4,1101.3 1462.5,1101.2 1465.7,1101.0 C1468.8,1100.8 1472.0,1100.7 1475.2,1100.5 C1478.3,1100.4 1481.5,1100.2 1484.6,1100.1 C1487.8,1099.9 1491.0,1099.8 1494.1,1099.7 C1497.3,1099.6 1500.4,1099.4 1503.6,1099.4 C1506.8,1099.3 1509.9,1099.3 1513.1,1099.3 C1516.2,1099.3 1519.4,1099.4 1522.6,1099.5 C1525.7,1099.6 1528.9,1099.7 1532.0,1099.9 C1535.2,1100.1 1538.4,1100.3 1541.5,1100.6 C1544.7,1100.9 1547.8,1101.2 1551.0,1101.5 C1554.2,1101.9 1557.3,1102.2 1560.5,1102.6 C1563.6,1102.9 1566.8,1103.3 1570.0,1103.7 C1573.1,1104.0 1576.3,1104.4 1579.4,1104.7 C1582.6,1105.0 1585.8,1105.3 1588.9,1105.6 C1592.1,1105.9 1595.2,1106.2 1598.4,1106.4 C1601.6,1106.7 1604.7,1106.9 1607.9,1107.1 C1611.0,1107.3 1614.2,1107.4 1617.4,1107.6 C1620.5,1107.7 1623.7,1107.8 1626.8,1107.9 C1630.0,1108.0 1633.2,1108.0 1636.3,1108.0 C1639.5,1108.1 1642.6,1108.1 1645.8,1108.1 C1649.0,1108.1 1652.1,1108.1 1655.3,1108.1 C1658.4,1108.1 1661.6,1108.1 1664.8,1108.0 C1667.9,1108.0 1671.1,1108.0 1674.2,1107.9 C1677.4,1107.8 1680.6,1107.8 1683.7,1107.7 C1686.9,1107.5 1690.0,1107.4 1693.2,1107.2 C1696.4,1107.0 1699.5,1106.8 1702.7,1106.5 C1705.8,1106.2 1709.0,1105.9 1712.2,1105.6 C1715.3,1105.2 1718.5,1104.8 1721.6,1104.4 C1724.8,1104.0 1728.0,1103.5 1731.1,1103.1 C1734.3,1102.7 1737.4,1102.2 1740.6,1101.8 C1743.8,1101.3 1746.9,1100.9 1750.1,1100.5 C1753.2,1100.1 1756.4,1099.7 1759.6,1099.3 C1762.7,1098.9 1765.9,1098.6 1769.0,1098.2 C1772.2,1097.8 1775.4,1097.4 1778.5,1097.0 C1781.7,1096.5 1784.8,1096.1 1788.0,1095.6 C1791.2,1095.1 1794.3,1094.5 1797.5,1094.0 C1800.6,1093.5 1803.8,1092.9 1807.0,1092.4 C1810.1,1091.8 1813.3,1091.2 1816.4,1090.7 C1819.6,1090.2 1822.8,1089.7 1825.9,1089.2 C1829.1,1088.7 1832.2,1088.2 1835.4,1087.7 C1838.6,1087.3 1841.7,1086.8 1844.9,1086.4 C1848.0,1085.9 1851.2,1085.5 1854.4,1085.0 C1857.5,1084.6 1860.7,1084.1 1863.8,1083.7 C1867.0,1083.2 1870.2,1082.8 1873.3,1082.4 C1876.5,1081.9 1879.6,1081.5 1882.8,1081.1 C1886.0,1080.7 1889.1,1080.3 1892.3,1079.9 C1895.4,1079.5 1898.6,1079.1 1901.8,1078.7 C1904.9,1078.4 1908.1,1078.0 1911.2,1077.7 C1914.4,1077.3 1917.6,1077.0 1920.7,1076.7 C1923.9,1076.3 1927.0,1076.0 1930.2,1075.8 C1933.4,1075.5 1936.5,1075.2 1939.7,1075.0 C1942.8,1074.7 1946.0,1074.5 1949.2,1074.3 C1952.3,1074.1 1955.5,1073.9 1958.6,1073.7 C1961.8,1073.5 1965.0,1073.4 1968.1,1073.2 C1971.3,1073.1 1974.4,1072.9 1977.6,1072.8 C1980.8,1072.7 1983.9,1072.6 1987.1,1072.5 C1990.2,1072.4 1993.4,1072.4 1996.6,1072.3 C1999.7,1072.2 2002.9,1072.2 2006.0,1072.1 C2009.2,1072.1 2012.4,1072.0 2015.5,1072.0 C2018.7,1072.0 2021.8,1071.9 2025.0,1071.9 C2028.2,1071.9 2031.3,1071.8 2034.5,1071.8 C2037.6,1071.8 2040.8,1071.8 2044.0,1071.8 C2047.1,1071.8 2050.3,1071.8 2053.4,1071.8 C2056.6,1071.8 2059.8,1071.8 2062.9,1071.8 C2066.1,1071.8 2069.2,1071.8 2072.4,1071.8 C2075.6,1071.8 2078.7,1071.8 2081.9,1071.8 C2085.0,1071.8 2088.2,1071.8 2091.4,1071.8 C2094.5,1071.8 2097.7,1071.8 2100.8,1071.8 C2104.0,1071.8 2107.2,1071.8 2110.3,1071.8 C2113.5,1071.8 2116.6,1071.8 2119.8,1071.8 C2123.0,1071.8 2126.1,1071.8 2129.3,1071.9 C2132.4,1071.9 2135.6,1071.9 2138.8,1071.9 C2141.9,1072.0 2145.1,1072.0 2148.2,1072.0 C2151.4,1072.1 2154.6,1072.1 2157.7,1072.2 C2160.9,1072.2 2164.0,1072.3 2167.2,1072.3 C2170.4,1072.4 2173.5,1072.4 2176.7,1072.5 C2179.8,1072.5 2183.0,1072.6 2186.2,1072.6 C2189.3,1072.7 2192.5,1072.7 2195.6,1072.7 C2198.8,1072.8 2202.0,1072.8 2205.1,1072.9 C2208.3,1072.9 2211.4,1073.0 2214.6,1073.0 C2217.8,1073.1 2220.9,1073.1 2224.1,1073.2 C2227.2,1073.2 2230.4,1073.3 2233.6,1073.3 C2236.7,1073.4 2239.9,1073.4 2243.0,1073.5 C2246.2,1073.5 2249.4,1073.6 2252.5,1073.6 C2255.7,1073.7 2260.4,1073.7 2262.0,1073.8" fill="none" stroke="#8C8C8C" stroke-width="6.2" stroke-linejoin="round" stroke-linecap="round"/>
<path d="M1323.5,1103.8 C1325.1,1103.9 1329.8,1104.0 1333.0,1104.1 C1336.1,1104.2 1339.3,1104.3 1342.4,1104.4 C1345.6,1104.5 1348.8,1104.6 1351.9,1104.7 C1355.1,1104.8 1358.2,1104.9 1361.4,1104.9 C1364.6,1105.0 1367.7,1105.1 1370.9,1105.1 C1374.0,1105.2 1377.2,1105.3 1380.4,1105.3 C1383.5,1105.4 1386.7,1105.4 1389.8,1105.5 C1393.0,1105.5 1396.2,1105.6 1399.3,1105.7 C1402.5,1105.8 1405.6,1105.9 1408.8,1106.1 C1412.0,1106.3 1415.1,1106.5 1418.3,1106.8 C1421.4,1107.0 1424.6,1107.4 1427.8,1107.7 C1430.9,1108.1 1434.1,1108.5 1437.2,1108.9 C1440.4,1109.3 1443.6,1109.8 1446.7,1110.2 C1449.9,1110.6 1453.0,1111.1 1456.2,1111.6 C1459.4,1112.0 1462.5,1112.4 1465.7,1112.9 C1468.8,1113.3 1472.0,1113.7 1475.2,1114.1 C1478.3,1114.5 1481.5,1114.9 1484.6,1115.2 C1487.8,1115.6 1491.0,1116.0 1494.1,1116.3 C1497.3,1116.6 1500.4,1116.9 1503.6,1117.2 C1506.8,1117.5 1509.9,1117.7 1513.1,1118.0 C1516.2,1118.2 1519.4,1118.4 1522.6,1118.7 C1525.7,1118.9 1528.9,1119.1 1532.0,1119.3 C1535.2,1119.4 1538.4,1119.6 1541.5,1119.8 C1544.7,1120.0 1547.8,1120.1 1551.0,1120.3 C1554.2,1120.4 1557.3,1120.6 1560.5,1120.7 C1563.6,1120.9 1566.8,1121.0 1570.0,1121.1 C1573.1,1121.2 1576.3,1121.3 1579.4,1121.4 C1582.6,1121.5 1585.8,1121.6 1588.9,1121.7 C1592.1,1121.8 1595.2,1121.8 1598.4,1121.9 C1601.6,1121.9 1604.7,1121.9 1607.9,1122.0 C1611.0,1122.0 1614.2,1122.0 1617.4,1122.0 C1620.5,1122.0 1623.7,1122.0 1626.8,1122.0 C1630.0,1122.0 1633.2,1122.0 1636.3,1122.1 C1639.5,1122.1 1642.6,1122.1 1645.8,1122.1 C1649.0,1122.1 1652.1,1122.1 1655.3,1122.2 C1658.4,1122.3 1661.6,1122.3 1664.8,1122.4 C1667.9,1122.5 1671.1,1122.7 1674.2,1122.9 C1677.4,1123.0 1680.6,1123.2 1683.7,1123.5 C1686.9,1123.7 1690.0,1124.0 1693.2,1124.4 C1696.4,1124.7 1699.5,1125.1 1702.7,1125.5 C1705.8,1125.8 1709.0,1126.3 1712.2,1126.7 C1715.3,1127.1 1718.5,1127.6 1721.6,1128.0 C1724.8,1128.5 1728.0,1128.9 1731.1,1129.4 C1734.3,1129.8 1737.4,1130.2 1740.6,1130.6 C1743.8,1131.1 1746.9,1131.5 1750.1,1131.9 C1753.2,1132.2 1756.4,1132.6 1759.6,1133.0 C1762.7,1133.4 1765.9,1133.7 1769.0,1134.1 C1772.2,1134.4 1775.4,1134.8 1778.5,1135.1 C1781.7,1135.4 1784.8,1135.8 1788.0,1136.1 C1791.2,1136.4 1794.3,1136.7 1797.5,1137.0 C1800.6,1137.3 1803.8,1137.6 1807.0,1137.8 C1810.1,1138.0 1813.3,1138.1 1816.4,1138.3 C1819.6,1138.4 1822.8,1138.5 1825.9,1138.6 C1829.1,1138.7 1832.2,1138.7 1835.4,1138.7 C1838.6,1138.8 1841.7,1138.8 1844.9,1138.8 C1848.0,1138.8 1851.2,1138.8 1854.4,1138.8 C1857.5,1138.8 1860.7,1138.8 1863.8,1138.8 C1867.0,1138.8 1870.2,1138.8 1873.3,1138.8 C1876.5,1138.8 1879.6,1138.7 1882.8,1138.7 C1886.0,1138.7 1889.1,1138.7 1892.3,1138.7 C1895.4,1138.6 1898.6,1138.6 1901.8,1138.6 C1904.9,1138.5 1908.1,1138.5 1911.2,1138.5 C1914.4,1138.4 1917.6,1138.4 1920.7,1138.3 C1923.9,1138.2 1927.0,1138.2 1930.2,1138.1 C1933.4,1138.0 1936.5,1137.8 1939.7,1137.7 C1942.8,1137.6 1946.0,1137.4 1949.2,1137.3 C1952.3,1137.1 1955.5,1137.0 1958.6,1136.8 C1961.8,1136.6 1965.0,1136.5 1968.1,1136.3 C1971.3,1136.1 1974.4,1135.9 1977.6,1135.8 C1980.8,1135.6 1983.9,1135.4 1987.1,1135.3 C1990.2,1135.1 1993.4,1135.0 1996.6,1134.8 C1999.7,1134.7 2002.9,1134.5 2006.0,1134.4 C2009.2,1134.2 2012.4,1134.1 2015.5,1134.0 C2018.7,1133.8 2021.8,1133.7 2025.0,1133.5 C2028.2,1133.4 2031.3,1133.3 2034.5,1133.1 C2037.6,1133.0 2040.8,1132.9 2044.0,1132.8 C2047.1,1132.6 2050.3,1132.5 2053.4,1132.4 C2056.6,1132.2 2059.8,1132.1 2062.9,1132.0 C2066.1,1131.9 2069.2,1131.8 2072.4,1131.7 C2075.6,1131.5 2078.7,1131.4 2081.9,1131.3 C2085.0,1131.2 2088.2,1131.1 2091.4,1131.0 C2094.5,1131.0 2097.7,1130.9 2100.8,1130.8 C2104.0,1130.7 2107.2,1130.6 2110.3,1130.5 C2113.5,1130.5 2116.6,1130.4 2119.8,1130.3 C2123.0,1130.2 2126.1,1130.1 2129.3,1130.1 C2132.4,1130.0 2135.6,1129.9 2138.8,1129.8 C2141.9,1129.8 2145.1,1129.7 2148.2,1129.6 C2151.4,1129.5 2154.6,1129.4 2157.7,1129.4 C2160.9,1129.3 2164.0,1129.2 2167.2,1129.1 C2170.4,1129.0 2173.5,1129.0 2176.7,1128.9 C2179.8,1128.8 2183.0,1128.7 2186.2,1128.6 C2189.3,1128.6 2192.5,1128.5 2195.6,1128.4 C2198.8,1128.3 2202.0,1128.3 2205.1,1128.2 C2208.3,1128.1 2211.4,1128.0 2214.6,1128.0 C2217.8,1127.9 2220.9,1127.8 2224.1,1127.8 C2227.2,1127.7 2230.4,1127.7 2233.6,1127.7 C2236.7,1127.6 2239.9,1127.6 2243.0,1127.6 C2246.2,1127.6 2249.4,1127.6 2252.5,1127.6 C2255.7,1127.5 2260.4,1127.5 2262.0,1127.5" fill="none" stroke="#F47474" stroke-width="6.2" stroke-linejoin="round" stroke-linecap="round"/>
<path d="M1323.5,1103.0 C1325.1,1103.0 1329.8,1102.9 1333.0,1102.9 C1336.1,1102.8 1339.3,1102.8 1342.4,1102.7 C1345.6,1102.7 1348.8,1102.6 1351.9,1102.5 C1355.1,1102.5 1358.2,1102.4 1361.4,1102.3 C1364.6,1102.2 1367.7,1102.1 1370.9,1102.0 C1374.0,1101.8 1377.2,1101.7 1380.4,1101.6 C1383.5,1101.4 1386.7,1101.3 1389.8,1101.2 C1393.0,1101.0 1396.2,1100.9 1399.3,1100.7 C1402.5,1100.6 1405.6,1100.5 1408.8,1100.3 C1412.0,1100.2 1415.1,1100.1 1418.3,1099.9 C1421.4,1099.8 1424.6,1099.7 1427.8,1099.6 C1430.9,1099.4 1434.1,1099.3 1437.2,1099.1 C1440.4,1099.0 1443.6,1098.9 1446.7,1098.7 C1449.9,1098.6 1453.0,1098.4 1456.2,1098.3 C1459.4,1098.1 1462.5,1098.0 1465.7,1097.8 C1468.8,1097.6 1472.0,1097.4 1475.2,1097.3 C1478.3,1097.1 1481.5,1096.9 1484.6,1096.7 C1487.8,1096.5 1491.0,1096.3 1494.1,1096.0 C1497.3,1095.8 1500.4,1095.5 1503.6,1095.3 C1506.8,1095.0 1509.9,1094.7 1513.1,1094.4 C1516.2,1094.1 1519.4,1093.7 1522.6,1093.4 C1525.7,1093.0 1528.9,1092.6 1532.0,1092.2 C1535.2,1091.8 1538.4,1091.3 1541.5,1090.9 C1544.7,1090.4 1547.8,1090.0 1551.0,1089.5 C1554.2,1089.0 1557.3,1088.5 1560.5,1088.1 C1563.6,1087.6 1566.8,1087.2 1570.0,1086.7 C1573.1,1086.3 1576.3,1085.9 1579.4,1085.5 C1582.6,1085.1 1585.8,1084.7 1588.9,1084.3 C1592.1,1084.0 1595.2,1083.7 1598.4,1083.3 C1601.6,1083.0 1604.7,1082.7 1607.9,1082.5 C1611.0,1082.2 1614.2,1082.0 1617.4,1081.7 C1620.5,1081.5 1623.7,1081.3 1626.8,1081.1 C1630.0,1080.9 1633.2,1080.7 1636.3,1080.5 C1639.5,1080.3 1642.6,1080.2 1645.8,1080.0 C1649.0,1079.8 1652.1,1079.7 1655.3,1079.5 C1658.4,1079.4 1661.6,1079.2 1664.8,1079.0 C1667.9,1078.9 1671.1,1078.7 1674.2,1078.6 C1677.4,1078.4 1680.6,1078.3 1683.7,1078.1 C1686.9,1078.0 1690.0,1077.9 1693.2,1077.7 C1696.4,1077.6 1699.5,1077.4 1702.7,1077.3 C1705.8,1077.2 1709.0,1077.0 1712.2,1076.9 C1715.3,1076.8 1718.5,1076.6 1721.6,1076.5 C1724.8,1076.4 1728.0,1076.3 1731.1,1076.2 C1734.3,1076.1 1737.4,1076.0 1740.6,1076.0 C1743.8,1076.0 1746.9,1076.0 1750.1,1076.1 C1753.2,1076.2 1756.4,1076.3 1759.6,1076.4 C1762.7,1076.6 1765.9,1076.8 1769.0,1077.1 C1772.2,1077.3 1775.4,1077.6 1778.5,1077.9 C1781.7,1078.2 1784.8,1078.6 1788.0,1078.9 C1791.2,1079.3 1794.3,1079.7 1797.5,1080.0 C1800.6,1080.4 1803.8,1080.8 1807.0,1081.2 C1810.1,1081.6 1813.3,1082.0 1816.4,1082.4 C1819.6,1082.8 1822.8,1083.2 1825.9,1083.7 C1829.1,1084.1 1832.2,1084.5 1835.4,1084.9 C1838.6,1085.4 1841.7,1085.8 1844.9,1086.2 C1848.0,1086.6 1851.2,1087.0 1854.4,1087.4 C1857.5,1087.8 1860.7,1088.2 1863.8,1088.6 C1867.0,1089.0 1870.2,1089.4 1873.3,1089.8 C1876.5,1090.2 1879.6,1090.5 1882.8,1090.9 C1886.0,1091.3 1889.1,1091.6 1892.3,1092.0 C1895.4,1092.3 1898.6,1092.7 1901.8,1093.0 C1904.9,1093.4 1908.1,1093.7 1911.2,1094.1 C1914.4,1094.4 1917.6,1094.8 1920.7,1095.1 C1923.9,1095.5 1927.0,1095.8 1930.2,1096.2 C1933.4,1096.5 1936.5,1096.8 1939.7,1097.2 C1942.8,1097.5 1946.0,1097.8 1949.2,1098.1 C1952.3,1098.4 1955.5,1098.7 1958.6,1099.0 C1961.8,1099.2 1965.0,1099.5 1968.1,1099.8 C1971.3,1100.0 1974.4,1100.3 1977.6,1100.5 C1980.8,1100.8 1983.9,1101.0 1987.1,1101.2 C1990.2,1101.4 1993.4,1101.7 1996.6,1101.9 C1999.7,1102.1 2002.9,1102.3 2006.0,1102.5 C2009.2,1102.7 2012.4,1102.8 2015.5,1103.0 C2018.7,1103.2 2021.8,1103.4 2025.0,1103.5 C2028.2,1103.7 2031.3,1103.8 2034.5,1104.0 C2037.6,1104.2 2040.8,1104.3 2044.0,1104.5 C2047.1,1104.6 2050.3,1104.8 2053.4,1104.9 C2056.6,1105.1 2059.8,1105.3 2062.9,1105.4 C2066.1,1105.6 2069.2,1105.7 2072.4,1105.9 C2075.6,1106.1 2078.7,1106.2 2081.9,1106.4 C2085.0,1106.5 2088.2,1106.7 2091.4,1106.8 C2094.5,1106.9 2097.7,1107.0 2100.8,1107.1 C2104.0,1107.3 2107.2,1107.3 2110.3,1107.4 C2113.5,1107.5 2116.6,1107.6 2119.8,1107.6 C2123.0,1107.7 2126.1,1107.7 2129.3,1107.8 C2132.4,1107.8 2135.6,1107.8 2138.8,1107.9 C2141.9,1107.9 2145.1,1107.9 2148.2,1108.0 C2151.4,1108.0 2154.6,1108.1 2157.7,1108.1 C2160.9,1108.1 2164.0,1108.2 2167.2,1108.2 C2170.4,1108.3 2173.5,1108.3 2176.7,1108.4 C2179.8,1108.4 2183.0,1108.4 2186.2,1108.5 C2189.3,1108.5 2192.5,1108.6 2195.6,1108.6 C2198.8,1108.6 2202.0,1108.7 2205.1,1108.7 C2208.3,1108.7 2211.4,1108.7 2214.6,1108.7 C2217.8,1108.8 2220.9,1108.8 2224.1,1108.8 C2227.2,1108.8 2230.4,1108.8 2233.6,1108.8 C2236.7,1108.8 2239.9,1108.8 2243.0,1108.8 C2246.2,1108.8 2249.4,1108.8 2252.5,1108.8 C2255.7,1108.8 2260.4,1108.8 2262.0,1108.8" fill="none" stroke="#5E9AEC" stroke-width="6.2" stroke-linejoin="round" stroke-linecap="round"/>
</g>
<rect x="1313" y="945" width="950" height="2" fill="#000"/>
<rect x="1313" y="1300.8" width="950" height="1.2" fill="#000"/>
<rect x="1313" y="945" width="2" height="357" fill="#000"/>
<rect x="2261" y="945" width="2" height="357" fill="#000"/>
<text x="1314.00" y="1347" text-anchor="middle" font-family="'Liberation Serif','Times New Roman',serif" font-size="47.5" textLength="22" lengthAdjust="spacingAndGlyphs">0</text>
<rect x="1407.80" y="1291" width="2" height="10" fill="#000"/>
<text x="1408.80" y="1347" text-anchor="middle" font-family="'Liberation Serif','Times New Roman',serif" font-size="47.5" textLength="44" lengthAdjust="spacingAndGlyphs">10</text>
<rect x="1502.60" y="1291" width="2" height="10" fill="#000"/>
<text x="1503.60" y="1347" text-anchor="middle" font-family="'Liberation Serif','Times New Roman',serif" font-size="47.5" textLength="44" lengthAdjust="spacingAndGlyphs">20</text>
<rect x="1597.40" y="1291" width="2" height="10" fill="#000"/>
<text x="1598.40" y="1347" text-anchor="middle" font-family="'Liberation Serif','Times New Roman',serif" font-size="47.5" textLength="44" lengthAdjust="spacingAndGlyphs">30</text>
<rect x="1692.20" y="1291" width="2" height="10" fill="#000"/>
<text x="1693.20" y="1347" text-anchor="middle" font-family="'Liberation Serif','Times New Roman',serif" font-size="47.5" textLength="44" lengthAdjust="spacingAndGlyphs">40</text>
<rect x="1787.00" y="1291" width="2" height="10" fill="#000"/>
<text x="1788.00" y="1347" text-anchor="middle" font-family="'Liberation Serif','Times New Roman',serif" font-size="47.5" textLength="44" lengthAdjust="spacingAndGlyphs">50</text>
<rect x="1881.80" y="1291" width="2" height="10" fill="#000"/>
<text x="1882.80" y="1347" text-anchor="middle" font-family="'Liberation Serif','Times New Roman',serif" font-size="47.5" textLength="44" lengthAdjust="spacingAndGlyphs">60</text>
<rect x="1976.60" y="1291" width="2" height="10" fill="#000"/>
<text x="1977.60" y="1347" text-anchor="middle" font-family="'Liberation Serif','Times New Roman',serif" font-size="47.5" textLength="44" lengthAdjust="spacingAndGlyphs">70</text>
<rect x="2071.40" y="1291" width="2" height="10" fill="#000"/>
<text x="2072.40" y="1347" text-anchor="middle" font-family="'Liberation Serif','Times New Roman',serif" font-size="47.5" textLength="44" lengthAdjust="spacingAndGlyphs">80</text>
<rect x="2166.20" y="1291" width="2" height="10" fill="#000"/>
<text x="2167.20" y="1347" text-anchor="middle" font-family="'Liberation Serif','Times New Roman',serif" font-size="47.5" textLength="44" lengthAdjust="spacingAndGlyphs">90</text>
<text x="2262.00" y="1347" text-anchor="middle" font-family="'Liberation Serif','Times New Roman',serif" font-size="47.5" textLength="66.7" lengthAdjust="spacingAndGlyphs">100</text>
<text x="1305" y="959.30" text-anchor="end" font-family="'Liberation Serif','Times New Roman',serif" font-size="47.5" textLength="78.5" lengthAdjust="spacingAndGlyphs">0.36</text>
<rect x="1314" y="1122.50" width="9" height="2" fill="#000"/>
<text x="1303" y="1138.30" text-anchor="end" font-family="'Liberation Serif','Times New Roman',serif" font-size="47.5" textLength="76.5" lengthAdjust="spacingAndGlyphs">0.33</text>
<text x="1305.5" y="1315.00" text-anchor="end" font-family="'Liberation Serif','Times New Roman',serif" font-size="47.5" textLength="78.5" lengthAdjust="spacingAndGlyphs">0.30</text>
<line x1="1467.3" y1="1250.4" x2="1556.3" y2="1250.4" stroke="#8C8C8C" stroke-width="6.5" stroke-linecap="round"/>
<text x="1566.3" y="1263.4" font-family="'Liberation Serif','Times New Roman',serif" font-size="41.5" textLength="105.6" lengthAdjust="spacingAndGlyphs">de<tspan dy="4.5">_</tspan><tspan dy="-4.5">w1</tspan></text>
<line x1="1682.3" y1="1250.4" x2="1771.3" y2="1250.4" stroke="#F47474" stroke-width="6.5" stroke-linecap="round"/>
<text x="1781.3" y="1263.4" font-family="'Liberation Serif','Times New Roman',serif" font-size="41.5" textLength="108.2" lengthAdjust="spacingAndGlyphs">de<tspan dy="4.5">_</tspan><tspan dy="-4.5">w2</tspan></text>
<line x1="1897.3" y1="1250.4" x2="1986.3" y2="1250.4" stroke="#5E9AEC" stroke-width="6.5" stroke-linecap="round"/>
<text x="1996.3" y="1263.4" font-family="'Liberation Serif','Times New Roman',serif" font-size="41.5" textLength="105.7" lengthAdjust="spacingAndGlyphs">de<tspan dy="4.5">_</tspan><tspan dy="-4.5">w3</tspan></text>
<text transform="translate(2388,1143.6) scale(0.978,0.948)" x="0" y="28.2" text-anchor="middle" font-family="'Liberation Serif','Noto Serif CJK SC',serif" font-size="73.8">③</text>
<clipPath id="c3L"><rect x="214" y="1403" width="947" height="358"/></clipPath>
<g clip-path="url(#c3L)">
<path d="M222.5,1566.3 L252.5,1566.3 L262.5,1563.0 L277.5,1560.0 L287.5,1560.0 L347.6,1539.3 L357.6,1539.3 L365.1,1535.8 L422.6,1535.8 L431.4,1532.0 L562.7,1532.0 L572.7,1528.3 L680.0,1528.3 L706.3,1528.3 L716.3,1532.0 L886.4,1532.0 L895.1,1535.8 L953.9,1535.8 L962.6,1538.8 L1018.9,1538.8 L1027.7,1542.5 L1066.4,1542.5 L1076.5,1546.3 L1121.5,1546.3 L1131.5,1548.8 L1160.2,1548.8" fill="none" stroke="#E5AF2E" stroke-width="6" stroke-linejoin="round" stroke-linecap="round"/>
<path d="M222.5,1566.3 L262.5,1566.3 L272.5,1563.0 L280.0,1563.0 L290.0,1567.0 L355.1,1567.0 L365.1,1570.8 L393.8,1570.8 L403.8,1574.3 L412.6,1574.3 L422.6,1578.0 L477.6,1578.0 L487.6,1581.8 L497.6,1581.8 L507.7,1585.0 L517.7,1585.0 L530.2,1589.5 L542.7,1592.5 L562.7,1592.5 L572.7,1596.3 L592.7,1596.3 L602.7,1600.1 L650.2,1600.1 L659.0,1603.3 L680.0,1603.1 L687.5,1603.1 L696.3,1606.8 L725.0,1606.8 L733.8,1610.6 L838.8,1610.6 L848.8,1606.3 L1160.2,1606.3" fill="none" stroke="#FF8000" stroke-width="6" stroke-linejoin="round" stroke-linecap="round"/>
<path d="M222.5,1570.8 L230.0,1570.8 L242.5,1574.5 L250.0,1574.5 L270.0,1582.0 L280.0,1582.0 L297.5,1588.8 L308.8,1588.8 L336.3,1599.6 L346.3,1599.6 L357.6,1603.1 L402.6,1603.1 L412.6,1599.6 L467.6,1599.6 L478.9,1595.8 L496.4,1595.8 L508.9,1592.0 L518.9,1592.0 L527.7,1588.8 L535.2,1588.8 L545.2,1585.0 L612.7,1585.0 L622.7,1581.3 L649.0,1581.3 L659.0,1577.5 L680.0,1578.8 L687.5,1574.5 L706.3,1574.5 L716.3,1570.8 L877.6,1570.8 L887.6,1567.0 L943.9,1567.0 L953.9,1563.3 L1018.9,1563.3 L1027.7,1560.0 L1065.2,1560.0 L1075.2,1556.8 L1114.0,1556.8 L1124.0,1553.3 L1160.2,1553.3" fill="none" stroke="#A0E832" stroke-width="6" stroke-linejoin="round" stroke-linecap="round"/>
</g>
<rect x="213" y="1403" width="949" height="2" fill="#000"/>
<rect x="213" y="1759" width="949" height="2" fill="#000"/>
<rect x="213" y="1403" width="2" height="358" fill="#000"/>
<rect x="1160" y="1403" width="2" height="358" fill="#000"/>
<text x="214.00" y="1806" text-anchor="middle" font-family="'Liberation Serif','Times New Roman',serif" font-size="47.5" textLength="22" lengthAdjust="spacingAndGlyphs">0</text>
<rect x="307.70" y="1750" width="2" height="10" fill="#000"/>
<text x="308.70" y="1806" text-anchor="middle" font-family="'Liberation Serif','Times New Roman',serif" font-size="47.5" textLength="44" lengthAdjust="spacingAndGlyphs">10</text>
<rect x="402.40" y="1750" width="2" height="10" fill="#000"/>
<text x="403.40" y="1806" text-anchor="middle" font-family="'Liberation Serif','Times New Roman',serif" font-size="47.5" textLength="44" lengthAdjust="spacingAndGlyphs">20</text>
<rect x="497.10" y="1750" width="2" height="10" fill="#000"/>
<text x="498.10" y="1806" text-anchor="middle" font-family="'Liberation Serif','Times New Roman',serif" font-size="47.5" textLength="44" lengthAdjust="spacingAndGlyphs">30</text>
<rect x="591.80" y="1750" width="2" height="10" fill="#000"/>
<text x="592.80" y="1806" text-anchor="middle" font-family="'Liberation Serif','Times New Roman',serif" font-size="47.5" textLength="44" lengthAdjust="spacingAndGlyphs">40</text>
<rect x="686.50" y="1750" width="2" height="10" fill="#000"/>
<text x="687.50" y="1806" text-anchor="middle" font-family="'Liberation Serif','Times New Roman',serif" font-size="47.5" textLength="44" lengthAdjust="spacingAndGlyphs">50</text>
<rect x="781.20" y="1750" width="2" height="10" fill="#000"/>
<text x="782.20" y="1806" text-anchor="middle" font-family="'Liberation Serif','Times New Roman',serif" font-size="47.5" textLength="44" lengthAdjust="spacingAndGlyphs">60</text>
<rect x="875.90" y="1750" width="2" height="10" fill="#000"/>
<text x="876.90" y="1806" text-anchor="middle" font-family="'Liberation Serif','Times New Roman',serif" font-size="47.5" textLength="44" lengthAdjust="spacingAndGlyphs">70</text>
<rect x="970.60" y="1750" width="2" height="10" fill="#000"/>
<text x="971.60" y="1806" text-anchor="middle" font-family="'Liberation Serif','Times New Roman',serif" font-size="47.5" textLength="44" lengthAdjust="spacingAndGlyphs">80</text>
<rect x="1065.30" y="1750" width="2" height="10" fill="#000"/>
<text x="1066.30" y="1806" text-anchor="middle" font-family="'Liberation Serif','Times New Roman',serif" font-size="47.5" textLength="44" lengthAdjust="spacingAndGlyphs">90</text>
<text x="1161.00" y="1806" text-anchor="middle" font-family="'Liberation Serif','Times New Roman',serif" font-size="47.5" textLength="66.7" lengthAdjust="spacingAndGlyphs">100</text>
<rect x="214" y="1509.80" width="9" height="2" fill="#000"/>
<text x="204" y="1525.30" text-anchor="end" font-family="'Liberation Serif','Times New Roman',serif" font-size="47.5" textLength="98.5" lengthAdjust="spacingAndGlyphs">0.335</text>
<rect x="214" y="1687.80" width="9" height="2" fill="#000"/>
<text x="204" y="1703.30" text-anchor="end" font-family="'Liberation Serif','Times New Roman',serif" font-size="47.5" textLength="100.5" lengthAdjust="spacingAndGlyphs">0.330</text>
<line x1="362.8" y1="1713.9" x2="451.8" y2="1713.9" stroke="#E5AF2E" stroke-width="6" stroke-linecap="round"/>
<text x="461.8" y="1726.9" font-family="'Liberation Serif','Times New Roman',serif" font-size="41.5" textLength="101.7" lengthAdjust="spacingAndGlyphs">en<tspan dy="4.5">_</tspan><tspan dy="-4.5">w1</tspan></text>
<line x1="577.8" y1="1713.9" x2="666.8" y2="1713.9" stroke="#FF8000" stroke-width="6" stroke-linecap="round"/>
<text x="676.8" y="1726.9" font-family="'Liberation Serif','Times New Roman',serif" font-size="41.5" textLength="108.2" lengthAdjust="spacingAndGlyphs">en<tspan dy="4.5">_</tspan><tspan dy="-4.5">w2</tspan></text>
<line x1="792.8" y1="1713.9" x2="881.8" y2="1713.9" stroke="#A0E832" stroke-width="6" stroke-linecap="round"/>
<text x="891.8" y="1726.9" font-family="'Liberation Serif','Times New Roman',serif" font-size="41.5" textLength="104.6" lengthAdjust="spacingAndGlyphs">en<tspan dy="4.5">_</tspan><tspan dy="-4.5">w3</tspan></text>
<clipPath id="c3R"><rect x="1314" y="1403" width="948" height="358"/></clipPath>
<g clip-path="url(#c3R)">
<path d="M1323.5,1561.9 C1325.1,1561.8 1329.8,1561.4 1333.0,1561.1 C1336.1,1560.8 1339.3,1560.6 1342.4,1560.3 C1345.6,1560.0 1348.8,1559.7 1351.9,1559.3 C1355.1,1559.0 1358.2,1558.7 1361.4,1558.3 C1364.6,1558.0 1367.7,1557.6 1370.9,1557.2 C1374.0,1556.8 1377.2,1556.4 1380.4,1556.0 C1383.5,1555.6 1386.7,1555.2 1389.8,1554.8 C1393.0,1554.4 1396.2,1554.0 1399.3,1553.6 C1402.5,1553.2 1405.6,1552.8 1408.8,1552.4 C1412.0,1552.1 1415.1,1551.7 1418.3,1551.4 C1421.4,1551.1 1424.6,1550.8 1427.8,1550.5 C1430.9,1550.2 1434.1,1549.9 1437.2,1549.6 C1440.4,1549.3 1443.6,1549.0 1446.7,1548.7 C1449.9,1548.4 1453.0,1548.2 1456.2,1547.9 C1459.4,1547.6 1462.5,1547.3 1465.7,1547.0 C1468.8,1546.7 1472.0,1546.4 1475.2,1546.2 C1478.3,1545.9 1481.5,1545.6 1484.6,1545.3 C1487.8,1545.0 1491.0,1544.8 1494.1,1544.5 C1497.3,1544.3 1500.4,1544.0 1503.6,1543.8 C1506.8,1543.6 1509.9,1543.3 1513.1,1543.2 C1516.2,1543.0 1519.4,1542.8 1522.6,1542.7 C1525.7,1542.6 1528.9,1542.5 1532.0,1542.5 C1535.2,1542.4 1538.4,1542.4 1541.5,1542.4 C1544.7,1542.4 1547.8,1542.4 1551.0,1542.5 C1554.2,1542.5 1557.3,1542.6 1560.5,1542.7 C1563.6,1542.9 1566.8,1543.0 1570.0,1543.2 C1573.1,1543.4 1576.3,1543.6 1579.4,1543.9 C1582.6,1544.1 1585.8,1544.5 1588.9,1544.8 C1592.1,1545.2 1595.2,1545.6 1598.4,1546.0 C1601.6,1546.5 1604.7,1547.0 1607.9,1547.5 C1611.0,1548.0 1614.2,1548.5 1617.4,1549.1 C1620.5,1549.7 1623.7,1550.3 1626.8,1550.9 C1630.0,1551.4 1633.2,1552.0 1636.3,1552.6 C1639.5,1553.2 1642.6,1553.8 1645.8,1554.5 C1649.0,1555.1 1652.1,1555.7 1655.3,1556.3 C1658.4,1556.9 1661.6,1557.6 1664.8,1558.2 C1667.9,1558.9 1671.1,1559.6 1674.2,1560.2 C1677.4,1560.9 1680.6,1561.7 1683.7,1562.4 C1686.9,1563.1 1690.0,1563.8 1693.2,1564.6 C1696.4,1565.3 1699.5,1566.1 1702.7,1566.8 C1705.8,1567.5 1709.0,1568.2 1712.2,1568.9 C1715.3,1569.6 1718.5,1570.3 1721.6,1571.0 C1724.8,1571.6 1728.0,1572.3 1731.1,1572.9 C1734.3,1573.6 1737.4,1574.2 1740.6,1574.8 C1743.8,1575.4 1746.9,1576.0 1750.1,1576.6 C1753.2,1577.2 1756.4,1577.7 1759.6,1578.3 C1762.7,1578.8 1765.9,1579.3 1769.0,1579.8 C1772.2,1580.2 1775.4,1580.7 1778.5,1581.2 C1781.7,1581.6 1784.8,1582.1 1788.0,1582.6 C1791.2,1583.0 1794.3,1583.5 1797.5,1583.9 C1800.6,1584.4 1803.8,1584.9 1807.0,1585.3 C1810.1,1585.8 1813.3,1586.3 1816.4,1586.7 C1819.6,1587.2 1822.8,1587.6 1825.9,1588.0 C1829.1,1588.5 1832.2,1588.9 1835.4,1589.3 C1838.6,1589.7 1841.7,1590.1 1844.9,1590.5 C1848.0,1590.8 1851.2,1591.2 1854.4,1591.6 C1857.5,1592.0 1860.7,1592.3 1863.8,1592.7 C1867.0,1593.0 1870.2,1593.4 1873.3,1593.7 C1876.5,1594.1 1879.6,1594.4 1882.8,1594.7 C1886.0,1595.1 1889.1,1595.4 1892.3,1595.7 C1895.4,1596.1 1898.6,1596.4 1901.8,1596.7 C1904.9,1597.0 1908.1,1597.3 1911.2,1597.7 C1914.4,1598.0 1917.6,1598.3 1920.7,1598.6 C1923.9,1598.9 1927.0,1599.2 1930.2,1599.5 C1933.4,1599.8 1936.5,1600.1 1939.7,1600.3 C1942.8,1600.6 1946.0,1600.9 1949.2,1601.2 C1952.3,1601.4 1955.5,1601.7 1958.6,1602.0 C1961.8,1602.2 1965.0,1602.5 1968.1,1602.8 C1971.3,1603.0 1974.4,1603.3 1977.6,1603.5 C1980.8,1603.8 1983.9,1604.0 1987.1,1604.3 C1990.2,1604.5 1993.4,1604.8 1996.6,1605.0 C1999.7,1605.3 2002.9,1605.5 2006.0,1605.7 C2009.2,1606.0 2012.4,1606.2 2015.5,1606.4 C2018.7,1606.7 2021.8,1606.9 2025.0,1607.1 C2028.2,1607.4 2031.3,1607.6 2034.5,1607.8 C2037.6,1608.0 2040.8,1608.2 2044.0,1608.4 C2047.1,1608.7 2050.3,1608.9 2053.4,1609.1 C2056.6,1609.3 2059.8,1609.5 2062.9,1609.7 C2066.1,1609.9 2069.2,1610.1 2072.4,1610.2 C2075.6,1610.4 2078.7,1610.6 2081.9,1610.8 C2085.0,1610.9 2088.2,1611.1 2091.4,1611.3 C2094.5,1611.4 2097.7,1611.6 2100.8,1611.7 C2104.0,1611.9 2107.2,1612.0 2110.3,1612.2 C2113.5,1612.3 2116.6,1612.4 2119.8,1612.6 C2123.0,1612.7 2126.1,1612.8 2129.3,1612.9 C2132.4,1613.1 2135.6,1613.2 2138.8,1613.3 C2141.9,1613.4 2145.1,1613.5 2148.2,1613.6 C2151.4,1613.7 2154.6,1613.8 2157.7,1613.9 C2160.9,1614.0 2164.0,1614.1 2167.2,1614.1 C2170.4,1614.2 2173.5,1614.3 2176.7,1614.4 C2179.8,1614.4 2183.0,1614.5 2186.2,1614.5 C2189.3,1614.6 2192.5,1614.6 2195.6,1614.7 C2198.8,1614.7 2202.0,1614.8 2205.1,1614.8 C2208.3,1614.8 2211.4,1614.9 2214.6,1614.9 C2217.8,1614.9 2220.9,1615.0 2224.1,1615.0 C2227.2,1615.1 2230.4,1615.1 2233.6,1615.1 C2236.7,1615.2 2239.9,1615.2 2243.0,1615.3 C2246.2,1615.3 2249.4,1615.4 2252.5,1615.4 C2255.7,1615.5 2260.4,1615.5 2262.0,1615.6" fill="none" stroke="#8C8C8C" stroke-width="6.2" stroke-linejoin="round" stroke-linecap="round"/>
<path d="M1323.5,1562.1 C1325.1,1562.3 1329.8,1562.7 1333.0,1563.0 C1336.1,1563.3 1339.3,1563.6 1342.4,1563.8 C1345.6,1564.1 1348.8,1564.4 1351.9,1564.6 C1355.1,1564.9 1358.2,1565.1 1361.4,1565.3 C1364.6,1565.5 1367.7,1565.7 1370.9,1565.8 C1374.0,1566.0 1377.2,1566.1 1380.4,1566.3 C1383.5,1566.4 1386.7,1566.5 1389.8,1566.5 C1393.0,1566.6 1396.2,1566.6 1399.3,1566.6 C1402.5,1566.6 1405.6,1566.6 1408.8,1566.5 C1412.0,1566.4 1415.1,1566.3 1418.3,1566.2 C1421.4,1566.1 1424.6,1565.9 1427.8,1565.8 C1430.9,1565.6 1434.1,1565.4 1437.2,1565.2 C1440.4,1565.0 1443.6,1564.7 1446.7,1564.5 C1449.9,1564.3 1453.0,1564.0 1456.2,1563.7 C1459.4,1563.5 1462.5,1563.2 1465.7,1562.9 C1468.8,1562.7 1472.0,1562.4 1475.2,1562.1 C1478.3,1561.8 1481.5,1561.5 1484.6,1561.2 C1487.8,1560.9 1491.0,1560.6 1494.1,1560.3 C1497.3,1560.0 1500.4,1559.7 1503.6,1559.4 C1506.8,1559.1 1509.9,1558.8 1513.1,1558.6 C1516.2,1558.3 1519.4,1558.0 1522.6,1557.7 C1525.7,1557.5 1528.9,1557.2 1532.0,1557.0 C1535.2,1556.7 1538.4,1556.5 1541.5,1556.3 C1544.7,1556.1 1547.8,1555.8 1551.0,1555.6 C1554.2,1555.4 1557.3,1555.2 1560.5,1554.9 C1563.6,1554.7 1566.8,1554.5 1570.0,1554.2 C1573.1,1554.0 1576.3,1553.7 1579.4,1553.5 C1582.6,1553.3 1585.8,1553.0 1588.9,1552.8 C1592.1,1552.6 1595.2,1552.4 1598.4,1552.2 C1601.6,1551.9 1604.7,1551.7 1607.9,1551.5 C1611.0,1551.3 1614.2,1551.2 1617.4,1551.0 C1620.5,1550.8 1623.7,1550.6 1626.8,1550.4 C1630.0,1550.2 1633.2,1550.0 1636.3,1549.8 C1639.5,1549.7 1642.6,1549.5 1645.8,1549.3 C1649.0,1549.1 1652.1,1548.9 1655.3,1548.7 C1658.4,1548.5 1661.6,1548.3 1664.8,1548.1 C1667.9,1548.0 1671.1,1547.8 1674.2,1547.6 C1677.4,1547.5 1680.6,1547.3 1683.7,1547.2 C1686.9,1547.1 1690.0,1547.0 1693.2,1546.8 C1696.4,1546.7 1699.5,1546.6 1702.7,1546.5 C1705.8,1546.4 1709.0,1546.3 1712.2,1546.2 C1715.3,1546.1 1718.5,1546.0 1721.6,1545.9 C1724.8,1545.9 1728.0,1545.8 1731.1,1545.7 C1734.3,1545.6 1737.4,1545.5 1740.6,1545.5 C1743.8,1545.4 1746.9,1545.4 1750.1,1545.3 C1753.2,1545.3 1756.4,1545.3 1759.6,1545.2 C1762.7,1545.2 1765.9,1545.2 1769.0,1545.2 C1772.2,1545.1 1775.4,1545.1 1778.5,1545.0 C1781.7,1544.9 1784.8,1544.8 1788.0,1544.7 C1791.2,1544.6 1794.3,1544.4 1797.5,1544.2 C1800.6,1544.0 1803.8,1543.8 1807.0,1543.6 C1810.1,1543.4 1813.3,1543.2 1816.4,1543.0 C1819.6,1542.8 1822.8,1542.5 1825.9,1542.3 C1829.1,1542.1 1832.2,1541.9 1835.4,1541.7 C1838.6,1541.5 1841.7,1541.3 1844.9,1541.1 C1848.0,1540.9 1851.2,1540.6 1854.4,1540.4 C1857.5,1540.2 1860.7,1540.0 1863.8,1539.8 C1867.0,1539.6 1870.2,1539.4 1873.3,1539.3 C1876.5,1539.1 1879.6,1538.9 1882.8,1538.7 C1886.0,1538.5 1889.1,1538.4 1892.3,1538.2 C1895.4,1538.0 1898.6,1537.9 1901.8,1537.7 C1904.9,1537.5 1908.1,1537.4 1911.2,1537.2 C1914.4,1537.1 1917.6,1536.9 1920.7,1536.8 C1923.9,1536.7 1927.0,1536.5 1930.2,1536.4 C1933.4,1536.3 1936.5,1536.2 1939.7,1536.1 C1942.8,1536.0 1946.0,1535.9 1949.2,1535.8 C1952.3,1535.7 1955.5,1535.6 1958.6,1535.6 C1961.8,1535.5 1965.0,1535.4 1968.1,1535.3 C1971.3,1535.3 1974.4,1535.2 1977.6,1535.2 C1980.8,1535.1 1983.9,1535.0 1987.1,1535.0 C1990.2,1535.0 1993.4,1534.9 1996.6,1534.9 C1999.7,1534.8 2002.9,1534.8 2006.0,1534.8 C2009.2,1534.7 2012.4,1534.7 2015.5,1534.7 C2018.7,1534.6 2021.8,1534.6 2025.0,1534.6 C2028.2,1534.6 2031.3,1534.5 2034.5,1534.5 C2037.6,1534.5 2040.8,1534.5 2044.0,1534.5 C2047.1,1534.4 2050.3,1534.4 2053.4,1534.4 C2056.6,1534.4 2059.8,1534.4 2062.9,1534.3 C2066.1,1534.3 2069.2,1534.3 2072.4,1534.3 C2075.6,1534.3 2078.7,1534.2 2081.9,1534.2 C2085.0,1534.2 2088.2,1534.2 2091.4,1534.1 C2094.5,1534.1 2097.7,1534.1 2100.8,1534.1 C2104.0,1534.0 2107.2,1534.0 2110.3,1534.0 C2113.5,1533.9 2116.6,1533.9 2119.8,1533.9 C2123.0,1533.8 2126.1,1533.8 2129.3,1533.8 C2132.4,1533.7 2135.6,1533.7 2138.8,1533.7 C2141.9,1533.6 2145.1,1533.6 2148.2,1533.6 C2151.4,1533.6 2154.6,1533.5 2157.7,1533.5 C2160.9,1533.5 2164.0,1533.4 2167.2,1533.4 C2170.4,1533.4 2173.5,1533.3 2176.7,1533.3 C2179.8,1533.2 2183.0,1533.2 2186.2,1533.2 C2189.3,1533.1 2192.5,1533.1 2195.6,1533.0 C2198.8,1533.0 2202.0,1532.9 2205.1,1532.9 C2208.3,1532.8 2211.4,1532.8 2214.6,1532.7 C2217.8,1532.7 2220.9,1532.7 2224.1,1532.6 C2227.2,1532.6 2230.4,1532.5 2233.6,1532.5 C2236.7,1532.4 2239.9,1532.4 2243.0,1532.3 C2246.2,1532.3 2249.4,1532.2 2252.5,1532.2 C2255.7,1532.1 2260.4,1532.0 2262.0,1532.0" fill="none" stroke="#F47474" stroke-width="6.2" stroke-linejoin="round" stroke-linecap="round"/>
<path d="M1323.5,1562.0 C1325.1,1562.0 1329.8,1562.0 1333.0,1562.0 C1336.1,1562.0 1339.3,1562.1 1342.4,1562.1 C1345.6,1562.1 1348.8,1562.1 1351.9,1562.2 C1355.1,1562.2 1358.2,1562.3 1361.4,1562.4 C1364.6,1562.5 1367.7,1562.6 1370.9,1562.7 C1374.0,1562.8 1377.2,1562.9 1380.4,1563.1 C1383.5,1563.2 1386.7,1563.4 1389.8,1563.6 C1393.0,1563.8 1396.2,1564.0 1399.3,1564.2 C1402.5,1564.4 1405.6,1564.7 1408.8,1565.0 C1412.0,1565.3 1415.1,1565.6 1418.3,1566.0 C1421.4,1566.4 1424.6,1566.8 1427.8,1567.2 C1430.9,1567.7 1434.1,1568.2 1437.2,1568.6 C1440.4,1569.1 1443.6,1569.7 1446.7,1570.2 C1449.9,1570.8 1453.0,1571.3 1456.2,1571.9 C1459.4,1572.5 1462.5,1573.1 1465.7,1573.7 C1468.8,1574.2 1472.0,1574.8 1475.2,1575.4 C1478.3,1576.0 1481.5,1576.5 1484.6,1577.1 C1487.8,1577.6 1491.0,1578.1 1494.1,1578.6 C1497.3,1579.1 1500.4,1579.5 1503.6,1579.9 C1506.8,1580.4 1509.9,1580.8 1513.1,1581.1 C1516.2,1581.5 1519.4,1581.9 1522.6,1582.2 C1525.7,1582.5 1528.9,1582.8 1532.0,1583.1 C1535.2,1583.3 1538.4,1583.5 1541.5,1583.7 C1544.7,1583.9 1547.8,1584.1 1551.0,1584.2 C1554.2,1584.3 1557.3,1584.3 1560.5,1584.4 C1563.6,1584.4 1566.8,1584.4 1570.0,1584.4 C1573.1,1584.4 1576.3,1584.4 1579.4,1584.3 C1582.6,1584.2 1585.8,1584.1 1588.9,1584.0 C1592.1,1583.8 1595.2,1583.7 1598.4,1583.4 C1601.6,1583.2 1604.7,1582.9 1607.9,1582.6 C1611.0,1582.3 1614.2,1581.9 1617.4,1581.5 C1620.5,1581.0 1623.7,1580.6 1626.8,1580.1 C1630.0,1579.6 1633.2,1579.1 1636.3,1578.6 C1639.5,1578.1 1642.6,1577.5 1645.8,1577.0 C1649.0,1576.4 1652.1,1575.9 1655.3,1575.3 C1658.4,1574.8 1661.6,1574.2 1664.8,1573.7 C1667.9,1573.1 1671.1,1572.6 1674.2,1572.1 C1677.4,1571.5 1680.6,1571.0 1683.7,1570.5 C1686.9,1569.9 1690.0,1569.4 1693.2,1568.9 C1696.4,1568.4 1699.5,1567.9 1702.7,1567.4 C1705.8,1567.0 1709.0,1566.5 1712.2,1566.0 C1715.3,1565.5 1718.5,1565.1 1721.6,1564.6 C1724.8,1564.2 1728.0,1563.7 1731.1,1563.3 C1734.3,1562.9 1737.4,1562.4 1740.6,1562.0 C1743.8,1561.7 1746.9,1561.3 1750.1,1561.0 C1753.2,1560.6 1756.4,1560.3 1759.6,1560.1 C1762.7,1559.8 1765.9,1559.5 1769.0,1559.3 C1772.2,1559.0 1775.4,1558.8 1778.5,1558.6 C1781.7,1558.3 1784.8,1558.1 1788.0,1557.8 C1791.2,1557.5 1794.3,1557.3 1797.5,1557.0 C1800.6,1556.7 1803.8,1556.4 1807.0,1556.1 C1810.1,1555.8 1813.3,1555.5 1816.4,1555.2 C1819.6,1554.9 1822.8,1554.6 1825.9,1554.3 C1829.1,1554.0 1832.2,1553.7 1835.4,1553.5 C1838.6,1553.2 1841.7,1552.9 1844.9,1552.7 C1848.0,1552.4 1851.2,1552.2 1854.4,1552.0 C1857.5,1551.7 1860.7,1551.5 1863.8,1551.2 C1867.0,1551.0 1870.2,1550.8 1873.3,1550.5 C1876.5,1550.3 1879.6,1550.1 1882.8,1549.8 C1886.0,1549.6 1889.1,1549.3 1892.3,1549.1 C1895.4,1548.9 1898.6,1548.6 1901.8,1548.4 C1904.9,1548.2 1908.1,1547.9 1911.2,1547.7 C1914.4,1547.5 1917.6,1547.3 1920.7,1547.0 C1923.9,1546.8 1927.0,1546.6 1930.2,1546.4 C1933.4,1546.2 1936.5,1546.0 1939.7,1545.9 C1942.8,1545.7 1946.0,1545.5 1949.2,1545.3 C1952.3,1545.2 1955.5,1545.0 1958.6,1544.8 C1961.8,1544.7 1965.0,1544.5 1968.1,1544.4 C1971.3,1544.2 1974.4,1544.1 1977.6,1543.9 C1980.8,1543.7 1983.9,1543.6 1987.1,1543.4 C1990.2,1543.3 1993.4,1543.1 1996.6,1542.9 C1999.7,1542.8 2002.9,1542.6 2006.0,1542.5 C2009.2,1542.3 2012.4,1542.2 2015.5,1542.0 C2018.7,1541.9 2021.8,1541.7 2025.0,1541.6 C2028.2,1541.4 2031.3,1541.3 2034.5,1541.1 C2037.6,1541.0 2040.8,1540.9 2044.0,1540.7 C2047.1,1540.6 2050.3,1540.5 2053.4,1540.3 C2056.6,1540.2 2059.8,1540.1 2062.9,1540.0 C2066.1,1539.9 2069.2,1539.7 2072.4,1539.6 C2075.6,1539.5 2078.7,1539.4 2081.9,1539.3 C2085.0,1539.2 2088.2,1539.1 2091.4,1539.0 C2094.5,1538.9 2097.7,1538.8 2100.8,1538.8 C2104.0,1538.7 2107.2,1538.6 2110.3,1538.5 C2113.5,1538.4 2116.6,1538.4 2119.8,1538.3 C2123.0,1538.2 2126.1,1538.2 2129.3,1538.1 C2132.4,1538.1 2135.6,1538.0 2138.8,1538.0 C2141.9,1537.9 2145.1,1537.9 2148.2,1537.9 C2151.4,1537.8 2154.6,1537.8 2157.7,1537.8 C2160.9,1537.7 2164.0,1537.7 2167.2,1537.7 C2170.4,1537.7 2173.5,1537.7 2176.7,1537.6 C2179.8,1537.6 2183.0,1537.6 2186.2,1537.7 C2189.3,1537.7 2192.5,1537.7 2195.6,1537.7 C2198.8,1537.7 2202.0,1537.7 2205.1,1537.8 C2208.3,1537.8 2211.4,1537.8 2214.6,1537.9 C2217.8,1537.9 2220.9,1538.0 2224.1,1538.0 C2227.2,1538.1 2230.4,1538.1 2233.6,1538.2 C2236.7,1538.2 2239.9,1538.3 2243.0,1538.4 C2246.2,1538.4 2249.4,1538.5 2252.5,1538.6 C2255.7,1538.6 2260.4,1538.7 2262.0,1538.8" fill="none" stroke="#5E9AEC" stroke-width="6.2" stroke-linejoin="round" stroke-linecap="round"/>
</g>
<rect x="1313" y="1403" width="950" height="2" fill="#000"/>
<rect x="1313" y="1759" width="950" height="2" fill="#000"/>
<rect x="1313" y="1403" width="2" height="358" fill="#000"/>
<rect x="2261" y="1403" width="2" height="358" fill="#000"/>
<text x="1314.00" y="1806" text-anchor="middle" font-family="'Liberation Serif','Times New Roman',serif" font-size="47.5" textLength="22" lengthAdjust="spacingAndGlyphs">0</text>
<rect x="1407.80" y="1750" width="2" height="10" fill="#000"/>
<text x="1408.80" y="1806" text-anchor="middle" font-family="'Liberation Serif','Times New Roman',serif" font-size="47.5" textLength="44" lengthAdjust="spacingAndGlyphs">10</text>
<rect x="1502.60" y="1750" width="2" height="10" fill="#000"/>
<text x="1503.60" y="1806" text-anchor="middle" font-family="'Liberation Serif','Times New Roman',serif" font-size="47.5" textLength="44" lengthAdjust="spacingAndGlyphs">20</text>
<rect x="1597.40" y="1750" width="2" height="10" fill="#000"/>
<text x="1598.40" y="1806" text-anchor="middle" font-family="'Liberation Serif','Times New Roman',serif" font-size="47.5" textLength="44" lengthAdjust="spacingAndGlyphs">30</text>
<rect x="1692.20" y="1750" width="2" height="10" fill="#000"/>
<text x="1693.20" y="1806" text-anchor="middle" font-family="'Liberation Serif','Times New Roman',serif" font-size="47.5" textLength="44" lengthAdjust="spacingAndGlyphs">40</text>
<rect x="1787.00" y="1750" width="2" height="10" fill="#000"/>
<text x="1788.00" y="1806" text-anchor="middle" font-family="'Liberation Serif','Times New Roman',serif" font-size="47.5" textLength="44" lengthAdjust="spacingAndGlyphs">50</text>
<rect x="1881.80" y="1750" width="2" height="10" fill="#000"/>
<text x="1882.80" y="1806" text-anchor="middle" font-family="'Liberation Serif','Times New Roman',serif" font-size="47.5" textLength="44" lengthAdjust="spacingAndGlyphs">60</text>
<rect x="1976.60" y="1750" width="2" height="10" fill="#000"/>
<text x="1977.60" y="1806" text-anchor="middle" font-family="'Liberation Serif','Times New Roman',serif" font-size="47.5" textLength="44" lengthAdjust="spacingAndGlyphs">70</text>
<rect x="2071.40" y="1750" width="2" height="10" fill="#000"/>
<text x="2072.40" y="1806" text-anchor="middle" font-family="'Liberation Serif','Times New Roman',serif" font-size="47.5" textLength="44" lengthAdjust="spacingAndGlyphs">80</text>
<rect x="2166.20" y="1750" width="2" height="10" fill="#000"/>
<text x="2167.20" y="1806" text-anchor="middle" font-family="'Liberation Serif','Times New Roman',serif" font-size="47.5" textLength="44" lengthAdjust="spacingAndGlyphs">90</text>
<text x="2262.00" y="1806" text-anchor="middle" font-family="'Liberation Serif','Times New Roman',serif" font-size="47.5" textLength="66.7" lengthAdjust="spacingAndGlyphs">100</text>
<text x="1305" y="1417.30" text-anchor="end" font-family="'Liberation Serif','Times New Roman',serif" font-size="47.5" textLength="78.5" lengthAdjust="spacingAndGlyphs">0.36</text>
<rect x="1314" y="1581.00" width="9" height="2" fill="#000"/>
<text x="1303" y="1596.80" text-anchor="end" font-family="'Liberation Serif','Times New Roman',serif" font-size="47.5" textLength="76.5" lengthAdjust="spacingAndGlyphs">0.33</text>
<text x="1305.5" y="1774.00" text-anchor="end" font-family="'Liberation Serif','Times New Roman',serif" font-size="47.5" textLength="78.5" lengthAdjust="spacingAndGlyphs">0.30</text>
<line x1="1467.3" y1="1710.9" x2="1556.3" y2="1710.9" stroke="#8C8C8C" stroke-width="6.5" stroke-linecap="round"/>
<text x="1566.3" y="1723.9" font-family="'Liberation Serif','Times New Roman',serif" font-size="41.5" textLength="105.6" lengthAdjust="spacingAndGlyphs">de<tspan dy="4.5">_</tspan><tspan dy="-4.5">w1</tspan></text>
<line x1="1682.3" y1="1710.9" x2="1771.3" y2="1710.9" stroke="#F47474" stroke-width="6.5" stroke-linecap="round"/>
<text x="1781.3" y="1723.9" font-family="'Liberation Serif','Times New Roman',serif" font-size="41.5" textLength="108.2" lengthAdjust="spacingAndGlyphs">de<tspan dy="4.5">_</tspan><tspan dy="-4.5">w2</tspan></text>
<line x1="1897.3" y1="1710.9" x2="1986.3" y2="1710.9" stroke="#5E9AEC" stroke-width="6.5" stroke-linecap="round"/>
<text x="1996.3" y="1723.9" font-family="'Liberation Serif','Times New Roman',serif" font-size="41.5" textLength="105.7" lengthAdjust="spacingAndGlyphs">de<tspan dy="4.5">_</tspan><tspan dy="-4.5">w3</tspan></text>
<text transform="translate(2388,1608.6) scale(0.978,0.948)" x="0" y="28.2" text-anchor="middle" font-family="'Liberation Serif','Noto Serif CJK SC',serif" font-size="73.8">④</text>
<clipPath id="c4L"><rect x="214" y="1862" width="947" height="358"/></clipPath>
<g clip-path="url(#c4L)">
<path d="M222.5,2029.5 L250.0,2029.5 L261.3,2025.8 L290.0,2025.8 L298.8,2022.5 L336.3,2022.5 L346.3,2018.8 L430.1,2018.8 L441.4,2015.5 L451.4,2015.5 L460.1,2019.5 L506.4,2019.5 L516.4,2023.0 L639.0,2023.0 L649.0,2026.3 L680.0,2025.8 L715.0,2025.8 L725.0,2029.5 L877.6,2029.5 L887.6,2025.5 L923.9,2025.5 L932.6,2029.5 L990.2,2029.5 L1000.2,2033.3 L1037.7,2033.3 L1046.4,2036.8 L1066.4,2036.8 L1076.5,2040.5 L1104.0,2040.5 L1114.0,2044.5 L1134.0,2044.5 L1142.7,2048.1 L1160.2,2048.1" fill="none" stroke="#E5AF2E" stroke-width="6" stroke-linejoin="round" stroke-linecap="round"/>
<path d="M222.5,2030.0 L232.5,2030.0 L260.0,2041.3 L271.3,2041.3 L335.1,2065.6 L345.1,2065.6 L362.6,2072.1 L375.1,2072.1 L386.3,2075.8 L398.8,2075.8 L405.1,2079.3 L422.6,2079.3 L432.6,2083.1 L440.1,2083.1 L450.1,2086.3 L477.6,2086.3 L487.6,2089.6 L515.2,2089.6 L525.2,2093.8 L677.7,2093.8 L687.5,2090.1 L827.6,2090.1 L837.6,2093.8 L923.9,2093.8 L933.9,2090.1 L971.4,2090.1 L980.2,2086.3 L1010.2,2086.3 L1018.9,2082.6 L1056.4,2082.6 L1066.4,2078.8 L1095.2,2078.8 L1105.2,2075.1 L1141.5,2075.1 L1151.5,2072.1 L1160.2,2072.1" fill="none" stroke="#FF8000" stroke-width="6" stroke-linejoin="round" stroke-linecap="round"/>
<path d="M222.5,2025.5 L232.5,2025.5 L242.5,2022.5 L251.3,2022.5 L270.0,2015.5 L278.8,2015.5 L290.0,2011.3 L298.8,2011.3 L317.6,2004.5 L327.6,2004.5 L345.1,1997.5 L355.1,1997.5 L366.3,1993.8 L375.1,1993.8 L385.1,1990.5 L402.6,1990.5 L412.6,1986.8 L430.1,1986.8 L441.4,1983.3 L458.9,1983.3 L470.1,1980.0 L480.1,1980.0 L490.1,1976.3 L497.6,1976.3 L508.9,1972.5 L526.4,1972.5 L536.4,1968.8 L565.2,1968.8 L575.2,1965.5 L620.2,1965.5 L630.2,1968.8 L686.5,1968.8 L687.5,1968.8 L697.5,1965.5 L1160.2,1965.5" fill="none" stroke="#A0E832" stroke-width="6" stroke-linejoin="round" stroke-linecap="round"/>
</g>
<rect x="213" y="1862" width="949" height="2" fill="#000"/>
<rect x="213" y="2218" width="949" height="2" fill="#000"/>
<rect x="213" y="1862" width="2" height="358" fill="#000"/>
<rect x="1160" y="1862" width="2" height="358" fill="#000"/>
<text x="214.00" y="2265" text-anchor="middle" font-family="'Liberation Serif','Times New Roman',serif" font-size="47.5" textLength="22" lengthAdjust="spacingAndGlyphs">0</text>
<rect x="307.70" y="2209" width="2" height="10" fill="#000"/>
<text x="308.70" y="2265" text-anchor="middle" font-family="'Liberation Serif','Times New Roman',serif" font-size="47.5" textLength="44" lengthAdjust="spacingAndGlyphs">10</text>
<rect x="402.40" y="2209" width="2" height="10" fill="#000"/>
<text x="403.40" y="2265" text-anchor="middle" font-family="'Liberation Serif','Times New Roman',serif" font-size="47.5" textLength="44" lengthAdjust="spacingAndGlyphs">20</text>
<rect x="497.10" y="2209" width="2" height="10" fill="#000"/>
<text x="498.10" y="2265" text-anchor="middle" font-family="'Liberation Serif','Times New Roman',serif" font-size="47.5" textLength="44" lengthAdjust="spacingAndGlyphs">30</text>
<rect x="591.80" y="2209" width="2" height="10" fill="#000"/>
<text x="592.80" y="2265" text-anchor="middle" font-family="'Liberation Serif','Times New Roman',serif" font-size="47.5" textLength="44" lengthAdjust="spacingAndGlyphs">40</text>
<rect x="686.50" y="2209" width="2" height="10" fill="#000"/>
<text x="687.50" y="2265" text-anchor="middle" font-family="'Liberation Serif','Times New Roman',serif" font-size="47.5" textLength="44" lengthAdjust="spacingAndGlyphs">50</text>
<rect x="781.20" y="2209" width="2" height="10" fill="#000"/>
<text x="782.20" y="2265" text-anchor="middle" font-family="'Liberation Serif','Times New Roman',serif" font-size="47.5" textLength="44" lengthAdjust="spacingAndGlyphs">60</text>
<rect x="875.90" y="2209" width="2" height="10" fill="#000"/>
<text x="876.90" y="2265" text-anchor="middle" font-family="'Liberation Serif','Times New Roman',serif" font-size="47.5" textLength="44" lengthAdjust="spacingAndGlyphs">70</text>
<rect x="970.60" y="2209" width="2" height="10" fill="#000"/>
<text x="971.60" y="2265" text-anchor="middle" font-family="'Liberation Serif','Times New Roman',serif" font-size="47.5" textLength="44" lengthAdjust="spacingAndGlyphs">80</text>
<rect x="1065.30" y="2209" width="2" height="10" fill="#000"/>
<text x="1066.30" y="2265" text-anchor="middle" font-family="'Liberation Serif','Times New Roman',serif" font-size="47.5" textLength="44" lengthAdjust="spacingAndGlyphs">90</text>
<text x="1161.00" y="2265" text-anchor="middle" font-family="'Liberation Serif','Times New Roman',serif" font-size="47.5" textLength="66.7" lengthAdjust="spacingAndGlyphs">100</text>
<rect x="214" y="1968.80" width="9" height="2" fill="#000"/>
<text x="204" y="1984.30" text-anchor="end" font-family="'Liberation Serif','Times New Roman',serif" font-size="47.5" textLength="98.5" lengthAdjust="spacingAndGlyphs">0.335</text>
<rect x="214" y="2146.80" width="9" height="2" fill="#000"/>
<text x="204" y="2162.30" text-anchor="end" font-family="'Liberation Serif','Times New Roman',serif" font-size="47.5" textLength="100.5" lengthAdjust="spacingAndGlyphs">0.330</text>
<line x1="362.8" y1="2174.7" x2="451.8" y2="2174.7" stroke="#E5AF2E" stroke-width="6" stroke-linecap="round"/>
<text x="461.8" y="2187.7" font-family="'Liberation Serif','Times New Roman',serif" font-size="41.5" textLength="101.7" lengthAdjust="spacingAndGlyphs">en<tspan dy="4.5">_</tspan><tspan dy="-4.5">w1</tspan></text>
<line x1="577.8" y1="2174.7" x2="666.8" y2="2174.7" stroke="#FF8000" stroke-width="6" stroke-linecap="round"/>
<text x="676.8" y="2187.7" font-family="'Liberation Serif','Times New Roman',serif" font-size="41.5" textLength="108.2" lengthAdjust="spacingAndGlyphs">en<tspan dy="4.5">_</tspan><tspan dy="-4.5">w2</tspan></text>
<line x1="792.8" y1="2174.7" x2="881.8" y2="2174.7" stroke="#A0E832" stroke-width="6" stroke-linecap="round"/>
<text x="891.8" y="2187.7" font-family="'Liberation Serif','Times New Roman',serif" font-size="41.5" textLength="104.6" lengthAdjust="spacingAndGlyphs">en<tspan dy="4.5">_</tspan><tspan dy="-4.5">w3</tspan></text>
<clipPath id="c4R"><rect x="1314" y="1862" width="948" height="358"/></clipPath>
<g clip-path="url(#c4R)">
<path d="M1323.5,2020.9 C1325.1,2021.1 1329.8,2021.6 1333.0,2022.0 C1336.1,2022.4 1339.3,2022.7 1342.4,2023.1 C1345.6,2023.5 1348.8,2024.0 1351.9,2024.4 C1355.1,2024.9 1358.2,2025.4 1361.4,2025.9 C1364.6,2026.5 1367.7,2027.1 1370.9,2027.7 C1374.0,2028.4 1377.2,2029.1 1380.4,2029.8 C1383.5,2030.5 1386.7,2031.3 1389.8,2032.1 C1393.0,2032.9 1396.2,2033.7 1399.3,2034.6 C1402.5,2035.4 1405.6,2036.2 1408.8,2037.0 C1412.0,2037.9 1415.1,2038.7 1418.3,2039.5 C1421.4,2040.3 1424.6,2041.1 1427.8,2041.9 C1430.9,2042.8 1434.1,2043.5 1437.2,2044.3 C1440.4,2045.1 1443.6,2045.9 1446.7,2046.7 C1449.9,2047.5 1453.0,2048.3 1456.2,2049.1 C1459.4,2049.9 1462.5,2050.7 1465.7,2051.4 C1468.8,2052.2 1472.0,2053.0 1475.2,2053.8 C1478.3,2054.5 1481.5,2055.3 1484.6,2056.1 C1487.8,2056.8 1491.0,2057.5 1494.1,2058.3 C1497.3,2059.0 1500.4,2059.7 1503.6,2060.3 C1506.8,2061.0 1509.9,2061.6 1513.1,2062.2 C1516.2,2062.8 1519.4,2063.4 1522.6,2063.9 C1525.7,2064.3 1528.9,2064.8 1532.0,2065.2 C1535.2,2065.6 1538.4,2065.9 1541.5,2066.2 C1544.7,2066.5 1547.8,2066.8 1551.0,2067.0 C1554.2,2067.3 1557.3,2067.5 1560.5,2067.7 C1563.6,2068.0 1566.8,2068.2 1570.0,2068.4 C1573.1,2068.6 1576.3,2068.8 1579.4,2069.1 C1582.6,2069.3 1585.8,2069.6 1588.9,2069.8 C1592.1,2070.1 1595.2,2070.3 1598.4,2070.6 C1601.6,2070.9 1604.7,2071.2 1607.9,2071.6 C1611.0,2071.9 1614.2,2072.3 1617.4,2072.7 C1620.5,2073.1 1623.7,2073.5 1626.8,2074.0 C1630.0,2074.4 1633.2,2074.9 1636.3,2075.4 C1639.5,2076.0 1642.6,2076.5 1645.8,2077.0 C1649.0,2077.6 1652.1,2078.1 1655.3,2078.7 C1658.4,2079.2 1661.6,2079.8 1664.8,2080.3 C1667.9,2080.9 1671.1,2081.4 1674.2,2082.0 C1677.4,2082.5 1680.6,2083.1 1683.7,2083.6 C1686.9,2084.2 1690.0,2084.7 1693.2,2085.3 C1696.4,2085.8 1699.5,2086.4 1702.7,2086.9 C1705.8,2087.4 1709.0,2087.9 1712.2,2088.4 C1715.3,2089.0 1718.5,2089.5 1721.6,2089.9 C1724.8,2090.4 1728.0,2090.9 1731.1,2091.3 C1734.3,2091.8 1737.4,2092.2 1740.6,2092.6 C1743.8,2093.0 1746.9,2093.4 1750.1,2093.8 C1753.2,2094.2 1756.4,2094.6 1759.6,2095.0 C1762.7,2095.4 1765.9,2095.7 1769.0,2096.1 C1772.2,2096.5 1775.4,2096.8 1778.5,2097.1 C1781.7,2097.4 1784.8,2097.7 1788.0,2098.0 C1791.2,2098.3 1794.3,2098.6 1797.5,2098.8 C1800.6,2099.1 1803.8,2099.3 1807.0,2099.6 C1810.1,2099.8 1813.3,2100.0 1816.4,2100.2 C1819.6,2100.5 1822.8,2100.7 1825.9,2100.8 C1829.1,2101.0 1832.2,2101.2 1835.4,2101.4 C1838.6,2101.5 1841.7,2101.7 1844.9,2101.8 C1848.0,2101.9 1851.2,2102.0 1854.4,2102.2 C1857.5,2102.3 1860.7,2102.4 1863.8,2102.5 C1867.0,2102.6 1870.2,2102.7 1873.3,2102.8 C1876.5,2102.9 1879.6,2103.0 1882.8,2103.1 C1886.0,2103.2 1889.1,2103.3 1892.3,2103.4 C1895.4,2103.5 1898.6,2103.6 1901.8,2103.7 C1904.9,2103.8 1908.1,2103.9 1911.2,2104.0 C1914.4,2104.1 1917.6,2104.2 1920.7,2104.3 C1923.9,2104.4 1927.0,2104.4 1930.2,2104.5 C1933.4,2104.6 1936.5,2104.7 1939.7,2104.7 C1942.8,2104.8 1946.0,2104.9 1949.2,2105.0 C1952.3,2105.0 1955.5,2105.1 1958.6,2105.2 C1961.8,2105.2 1965.0,2105.3 1968.1,2105.4 C1971.3,2105.4 1974.4,2105.5 1977.6,2105.6 C1980.8,2105.7 1983.9,2105.7 1987.1,2105.8 C1990.2,2105.9 1993.4,2106.0 1996.6,2106.1 C1999.7,2106.2 2002.9,2106.3 2006.0,2106.4 C2009.2,2106.4 2012.4,2106.5 2015.5,2106.6 C2018.7,2106.7 2021.8,2106.8 2025.0,2106.9 C2028.2,2107.0 2031.3,2107.1 2034.5,2107.2 C2037.6,2107.3 2040.8,2107.3 2044.0,2107.4 C2047.1,2107.5 2050.3,2107.6 2053.4,2107.7 C2056.6,2107.7 2059.8,2107.8 2062.9,2107.9 C2066.1,2108.0 2069.2,2108.0 2072.4,2108.1 C2075.6,2108.2 2078.7,2108.2 2081.9,2108.3 C2085.0,2108.4 2088.2,2108.4 2091.4,2108.5 C2094.5,2108.5 2097.7,2108.6 2100.8,2108.6 C2104.0,2108.7 2107.2,2108.7 2110.3,2108.8 C2113.5,2108.8 2116.6,2108.9 2119.8,2108.9 C2123.0,2109.0 2126.1,2109.0 2129.3,2109.0 C2132.4,2109.1 2135.6,2109.1 2138.8,2109.2 C2141.9,2109.2 2145.1,2109.2 2148.2,2109.3 C2151.4,2109.3 2154.6,2109.3 2157.7,2109.4 C2160.9,2109.4 2164.0,2109.4 2167.2,2109.4 C2170.4,2109.5 2173.5,2109.5 2176.7,2109.5 C2179.8,2109.5 2183.0,2109.5 2186.2,2109.5 C2189.3,2109.6 2192.5,2109.6 2195.6,2109.6 C2198.8,2109.6 2202.0,2109.6 2205.1,2109.6 C2208.3,2109.6 2211.4,2109.6 2214.6,2109.6 C2217.8,2109.6 2220.9,2109.6 2224.1,2109.6 C2227.2,2109.6 2230.4,2109.6 2233.6,2109.6 C2236.7,2109.6 2239.9,2109.6 2243.0,2109.6 C2246.2,2109.6 2249.4,2109.6 2252.5,2109.6 C2255.7,2109.6 2260.4,2109.6 2262.0,2109.6" fill="none" stroke="#8C8C8C" stroke-width="6.2" stroke-linejoin="round" stroke-linecap="round"/>
<path d="M1323.5,2020.7 C1325.1,2020.5 1329.8,2019.8 1333.0,2019.4 C1336.1,2019.0 1339.3,2018.6 1342.4,2018.2 C1345.6,2017.8 1348.8,2017.4 1351.9,2016.9 C1355.1,2016.5 1358.2,2016.1 1361.4,2015.6 C1364.6,2015.2 1367.7,2014.8 1370.9,2014.3 C1374.0,2013.8 1377.2,2013.3 1380.4,2012.7 C1383.5,2012.2 1386.7,2011.6 1389.8,2011.0 C1393.0,2010.4 1396.2,2009.7 1399.3,2009.1 C1402.5,2008.4 1405.6,2007.7 1408.8,2007.0 C1412.0,2006.3 1415.1,2005.5 1418.3,2004.8 C1421.4,2004.1 1424.6,2003.3 1427.8,2002.6 C1430.9,2001.9 1434.1,2001.2 1437.2,2000.5 C1440.4,1999.9 1443.6,1999.2 1446.7,1998.6 C1449.9,1997.9 1453.0,1997.3 1456.2,1996.8 C1459.4,1996.2 1462.5,1995.7 1465.7,1995.2 C1468.8,1994.7 1472.0,1994.2 1475.2,1993.7 C1478.3,1993.3 1481.5,1992.9 1484.6,1992.5 C1487.8,1992.1 1491.0,1991.8 1494.1,1991.4 C1497.3,1991.1 1500.4,1990.8 1503.6,1990.5 C1506.8,1990.2 1509.9,1990.0 1513.1,1989.7 C1516.2,1989.4 1519.4,1989.2 1522.6,1989.0 C1525.7,1988.7 1528.9,1988.5 1532.0,1988.3 C1535.2,1988.0 1538.4,1987.8 1541.5,1987.6 C1544.7,1987.4 1547.8,1987.1 1551.0,1986.9 C1554.2,1986.7 1557.3,1986.5 1560.5,1986.2 C1563.6,1986.0 1566.8,1985.8 1570.0,1985.6 C1573.1,1985.4 1576.3,1985.2 1579.4,1985.0 C1582.6,1984.7 1585.8,1984.5 1588.9,1984.3 C1592.1,1984.1 1595.2,1983.9 1598.4,1983.7 C1601.6,1983.4 1604.7,1983.2 1607.9,1983.0 C1611.0,1982.7 1614.2,1982.4 1617.4,1982.2 C1620.5,1981.9 1623.7,1981.6 1626.8,1981.3 C1630.0,1981.0 1633.2,1980.7 1636.3,1980.4 C1639.5,1980.1 1642.6,1979.8 1645.8,1979.5 C1649.0,1979.2 1652.1,1978.8 1655.3,1978.5 C1658.4,1978.2 1661.6,1977.9 1664.8,1977.6 C1667.9,1977.4 1671.1,1977.1 1674.2,1976.8 C1677.4,1976.5 1680.6,1976.2 1683.7,1976.0 C1686.9,1975.7 1690.0,1975.4 1693.2,1975.2 C1696.4,1974.9 1699.5,1974.6 1702.7,1974.4 C1705.8,1974.1 1709.0,1973.9 1712.2,1973.6 C1715.3,1973.4 1718.5,1973.1 1721.6,1972.9 C1724.8,1972.6 1728.0,1972.4 1731.1,1972.1 C1734.3,1971.9 1737.4,1971.7 1740.6,1971.4 C1743.8,1971.2 1746.9,1971.0 1750.1,1970.8 C1753.2,1970.6 1756.4,1970.4 1759.6,1970.2 C1762.7,1970.1 1765.9,1969.9 1769.0,1969.7 C1772.2,1969.6 1775.4,1969.4 1778.5,1969.3 C1781.7,1969.2 1784.8,1969.0 1788.0,1968.9 C1791.2,1968.7 1794.3,1968.6 1797.5,1968.5 C1800.6,1968.3 1803.8,1968.2 1807.0,1968.0 C1810.1,1967.9 1813.3,1967.8 1816.4,1967.6 C1819.6,1967.5 1822.8,1967.4 1825.9,1967.2 C1829.1,1967.1 1832.2,1966.9 1835.4,1966.8 C1838.6,1966.7 1841.7,1966.6 1844.9,1966.4 C1848.0,1966.3 1851.2,1966.2 1854.4,1966.0 C1857.5,1965.9 1860.7,1965.8 1863.8,1965.7 C1867.0,1965.6 1870.2,1965.4 1873.3,1965.3 C1876.5,1965.2 1879.6,1965.1 1882.8,1965.0 C1886.0,1964.9 1889.1,1964.8 1892.3,1964.7 C1895.4,1964.6 1898.6,1964.6 1901.8,1964.5 C1904.9,1964.4 1908.1,1964.3 1911.2,1964.2 C1914.4,1964.2 1917.6,1964.1 1920.7,1964.0 C1923.9,1963.9 1927.0,1963.9 1930.2,1963.8 C1933.4,1963.8 1936.5,1963.7 1939.7,1963.6 C1942.8,1963.6 1946.0,1963.5 1949.2,1963.5 C1952.3,1963.4 1955.5,1963.4 1958.6,1963.3 C1961.8,1963.3 1965.0,1963.3 1968.1,1963.2 C1971.3,1963.2 1974.4,1963.1 1977.6,1963.1 C1980.8,1963.1 1983.9,1963.1 1987.1,1963.1 C1990.2,1963.0 1993.4,1963.0 1996.6,1963.0 C1999.7,1963.0 2002.9,1963.0 2006.0,1963.0 C2009.2,1963.0 2012.4,1963.0 2015.5,1963.0 C2018.7,1963.0 2021.8,1963.0 2025.0,1963.0 C2028.2,1963.0 2031.3,1963.0 2034.5,1963.0 C2037.6,1963.0 2040.8,1963.0 2044.0,1963.0 C2047.1,1963.0 2050.3,1963.0 2053.4,1963.0 C2056.6,1963.0 2059.8,1963.0 2062.9,1963.0 C2066.1,1963.0 2069.2,1963.1 2072.4,1963.1 C2075.6,1963.1 2078.7,1963.2 2081.9,1963.2 C2085.0,1963.3 2088.2,1963.3 2091.4,1963.4 C2094.5,1963.5 2097.7,1963.6 2100.8,1963.6 C2104.0,1963.7 2107.2,1963.8 2110.3,1963.9 C2113.5,1964.0 2116.6,1964.1 2119.8,1964.2 C2123.0,1964.3 2126.1,1964.3 2129.3,1964.4 C2132.4,1964.5 2135.6,1964.6 2138.8,1964.7 C2141.9,1964.7 2145.1,1964.8 2148.2,1964.9 C2151.4,1964.9 2154.6,1965.0 2157.7,1965.1 C2160.9,1965.1 2164.0,1965.2 2167.2,1965.2 C2170.4,1965.3 2173.5,1965.4 2176.7,1965.4 C2179.8,1965.5 2183.0,1965.5 2186.2,1965.6 C2189.3,1965.6 2192.5,1965.7 2195.6,1965.7 C2198.8,1965.8 2202.0,1965.8 2205.1,1965.9 C2208.3,1965.9 2211.4,1966.0 2214.6,1966.0 C2217.8,1966.0 2220.9,1966.1 2224.1,1966.1 C2227.2,1966.1 2230.4,1966.2 2233.6,1966.2 C2236.7,1966.2 2239.9,1966.2 2243.0,1966.2 C2246.2,1966.2 2249.4,1966.2 2252.5,1966.3 C2255.7,1966.3 2260.4,1966.3 2262.0,1966.3" fill="none" stroke="#F47474" stroke-width="6.2" stroke-linejoin="round" stroke-linecap="round"/>
<path d="M1323.5,2020.8 C1325.1,2020.8 1329.8,2020.9 1333.0,2020.9 C1336.1,2020.9 1339.3,2021.0 1342.4,2021.0 C1345.6,2020.9 1348.8,2020.9 1351.9,2020.9 C1355.1,2020.8 1358.2,2020.7 1361.4,2020.5 C1364.6,2020.4 1367.7,2020.2 1370.9,2020.0 C1374.0,2019.7 1377.2,2019.5 1380.4,2019.2 C1383.5,2018.9 1386.7,2018.6 1389.8,2018.3 C1393.0,2018.0 1396.2,2017.7 1399.3,2017.4 C1402.5,2017.0 1405.6,2016.7 1408.8,2016.4 C1412.0,2016.1 1415.1,2015.8 1418.3,2015.5 C1421.4,2015.2 1424.6,2014.9 1427.8,2014.6 C1430.9,2014.3 1434.1,2014.0 1437.2,2013.8 C1440.4,2013.5 1443.6,2013.3 1446.7,2013.0 C1449.9,2012.8 1453.0,2012.5 1456.2,2012.3 C1459.4,2012.0 1462.5,2011.8 1465.7,2011.6 C1468.8,2011.3 1472.0,2011.1 1475.2,2010.8 C1478.3,2010.6 1481.5,2010.4 1484.6,2010.1 C1487.8,2009.9 1491.0,2009.7 1494.1,2009.4 C1497.3,2009.2 1500.4,2009.0 1503.6,2008.8 C1506.8,2008.6 1509.9,2008.4 1513.1,2008.2 C1516.2,2008.0 1519.4,2007.9 1522.6,2007.7 C1525.7,2007.5 1528.9,2007.4 1532.0,2007.2 C1535.2,2007.0 1538.4,2006.9 1541.5,2006.7 C1544.7,2006.6 1547.8,2006.5 1551.0,2006.4 C1554.2,2006.2 1557.3,2006.1 1560.5,2006.1 C1563.6,2006.0 1566.8,2005.9 1570.0,2005.9 C1573.1,2005.9 1576.3,2005.8 1579.4,2005.8 C1582.6,2005.8 1585.8,2005.8 1588.9,2005.8 C1592.1,2005.7 1595.2,2005.7 1598.4,2005.7 C1601.6,2005.6 1604.7,2005.6 1607.9,2005.5 C1611.0,2005.4 1614.2,2005.3 1617.4,2005.2 C1620.5,2005.1 1623.7,2004.9 1626.8,2004.8 C1630.0,2004.6 1633.2,2004.4 1636.3,2004.1 C1639.5,2003.9 1642.6,2003.6 1645.8,2003.4 C1649.0,2003.1 1652.1,2002.8 1655.3,2002.5 C1658.4,2002.2 1661.6,2001.9 1664.8,2001.6 C1667.9,2001.3 1671.1,2001.0 1674.2,2000.7 C1677.4,2000.4 1680.6,2000.1 1683.7,1999.8 C1686.9,1999.5 1690.0,1999.2 1693.2,1998.9 C1696.4,1998.7 1699.5,1998.4 1702.7,1998.1 C1705.8,1997.9 1709.0,1997.6 1712.2,1997.4 C1715.3,1997.1 1718.5,1996.9 1721.6,1996.7 C1724.8,1996.4 1728.0,1996.2 1731.1,1996.0 C1734.3,1995.8 1737.4,1995.6 1740.6,1995.4 C1743.8,1995.3 1746.9,1995.1 1750.1,1995.0 C1753.2,1994.9 1756.4,1994.8 1759.6,1994.8 C1762.7,1994.7 1765.9,1994.7 1769.0,1994.7 C1772.2,1994.7 1775.4,1994.7 1778.5,1994.7 C1781.7,1994.7 1784.8,1994.7 1788.0,1994.6 C1791.2,1994.6 1794.3,1994.6 1797.5,1994.5 C1800.6,1994.5 1803.8,1994.4 1807.0,1994.4 C1810.1,1994.3 1813.3,1994.2 1816.4,1994.2 C1819.6,1994.1 1822.8,1994.0 1825.9,1994.0 C1829.1,1993.9 1832.2,1993.9 1835.4,1993.9 C1838.6,1993.8 1841.7,1993.8 1844.9,1993.8 C1848.0,1993.8 1851.2,1993.8 1854.4,1993.8 C1857.5,1993.8 1860.7,1993.8 1863.8,1993.8 C1867.0,1993.8 1870.2,1993.8 1873.3,1993.8 C1876.5,1993.8 1879.6,1993.8 1882.8,1993.8 C1886.0,1993.8 1889.1,1993.8 1892.3,1993.8 C1895.4,1993.8 1898.6,1993.8 1901.8,1993.8 C1904.9,1993.8 1908.1,1993.8 1911.2,1993.8 C1914.4,1993.8 1917.6,1993.7 1920.7,1993.7 C1923.9,1993.7 1927.0,1993.7 1930.2,1993.7 C1933.4,1993.7 1936.5,1993.6 1939.7,1993.6 C1942.8,1993.6 1946.0,1993.5 1949.2,1993.5 C1952.3,1993.4 1955.5,1993.4 1958.6,1993.3 C1961.8,1993.3 1965.0,1993.2 1968.1,1993.2 C1971.3,1993.1 1974.4,1993.0 1977.6,1993.0 C1980.8,1992.9 1983.9,1992.8 1987.1,1992.7 C1990.2,1992.6 1993.4,1992.5 1996.6,1992.4 C1999.7,1992.3 2002.9,1992.2 2006.0,1992.1 C2009.2,1992.0 2012.4,1991.9 2015.5,1991.8 C2018.7,1991.7 2021.8,1991.6 2025.0,1991.5 C2028.2,1991.3 2031.3,1991.2 2034.5,1991.1 C2037.6,1991.0 2040.8,1990.9 2044.0,1990.8 C2047.1,1990.7 2050.3,1990.6 2053.4,1990.5 C2056.6,1990.3 2059.8,1990.2 2062.9,1990.1 C2066.1,1990.0 2069.2,1989.9 2072.4,1989.8 C2075.6,1989.7 2078.7,1989.6 2081.9,1989.5 C2085.0,1989.4 2088.2,1989.3 2091.4,1989.2 C2094.5,1989.1 2097.7,1989.0 2100.8,1988.9 C2104.0,1988.8 2107.2,1988.7 2110.3,1988.6 C2113.5,1988.5 2116.6,1988.4 2119.8,1988.3 C2123.0,1988.3 2126.1,1988.2 2129.3,1988.1 C2132.4,1988.0 2135.6,1987.9 2138.8,1987.8 C2141.9,1987.7 2145.1,1987.7 2148.2,1987.6 C2151.4,1987.5 2154.6,1987.4 2157.7,1987.3 C2160.9,1987.3 2164.0,1987.2 2167.2,1987.1 C2170.4,1987.0 2173.5,1987.0 2176.7,1986.9 C2179.8,1986.8 2183.0,1986.7 2186.2,1986.7 C2189.3,1986.6 2192.5,1986.5 2195.6,1986.5 C2198.8,1986.4 2202.0,1986.3 2205.1,1986.3 C2208.3,1986.2 2211.4,1986.2 2214.6,1986.1 C2217.8,1986.0 2220.9,1986.0 2224.1,1985.9 C2227.2,1985.9 2230.4,1985.8 2233.6,1985.8 C2236.7,1985.8 2239.9,1985.7 2243.0,1985.7 C2246.2,1985.7 2249.4,1985.6 2252.5,1985.6 C2255.7,1985.6 2260.4,1985.5 2262.0,1985.5" fill="none" stroke="#5E9AEC" stroke-width="6.2" stroke-linejoin="round" stroke-linecap="round"/>
</g>
<rect x="1313" y="1862" width="950" height="2" fill="#000"/>
<rect x="1313" y="2218" width="950" height="2" fill="#000"/>
<rect x="1313" y="1862" width="2" height="358" fill="#000"/>
<rect x="2261" y="1862" width="2" height="358" fill="#000"/>
<text x="1314.00" y="2265" text-anchor="middle" font-family="'Liberation Serif','Times New Roman',serif" font-size="47.5" textLength="22" lengthAdjust="spacingAndGlyphs">0</text>
<rect x="1407.80" y="2209" width="2" height="10" fill="#000"/>
<text x="1408.80" y="2265" text-anchor="middle" font-family="'Liberation Serif','Times New Roman',serif" font-size="47.5" textLength="44" lengthAdjust="spacingAndGlyphs">10</text>
<rect x="1502.60" y="2209" width="2" height="10" fill="#000"/>
<text x="1503.60" y="2265" text-anchor="middle" font-family="'Liberation Serif','Times New Roman',serif" font-size="47.5" textLength="44" lengthAdjust="spacingAndGlyphs">20</text>
<rect x="1597.40" y="2209" width="2" height="10" fill="#000"/>
<text x="1598.40" y="2265" text-anchor="middle" font-family="'Liberation Serif','Times New Roman',serif" font-size="47.5" textLength="44" lengthAdjust="spacingAndGlyphs">30</text>
<rect x="1692.20" y="2209" width="2" height="10" fill="#000"/>
<text x="1693.20" y="2265" text-anchor="middle" font-family="'Liberation Serif','Times New Roman',serif" font-size="47.5" textLength="44" lengthAdjust="spacingAndGlyphs">40</text>
<rect x="1787.00" y="2209" width="2" height="10" fill="#000"/>
<text x="1788.00" y="2265" text-anchor="middle" font-family="'Liberation Serif','Times New Roman',serif" font-size="47.5" textLength="44" lengthAdjust="spacingAndGlyphs">50</text>
<rect x="1881.80" y="2209" width="2" height="10" fill="#000"/>
<text x="1882.80" y="2265" text-anchor="middle" font-family="'Liberation Serif','Times New Roman',serif" font-size="47.5" textLength="44" lengthAdjust="spacingAndGlyphs">60</text>
<rect x="1976.60" y="2209" width="2" height="10" fill="#000"/>
<text x="1977.60" y="2265" text-anchor="middle" font-family="'Liberation Serif','Times New Roman',serif" font-size="47.5" textLength="44" lengthAdjust="spacingAndGlyphs">70</text>
<rect x="2071.40" y="2209" width="2" height="10" fill="#000"/>
<text x="2072.40" y="2265" text-anchor="middle" font-family="'Liberation Serif','Times New Roman',serif" font-size="47.5" textLength="44" lengthAdjust="spacingAndGlyphs">80</text>
<rect x="2166.20" y="2209" width="2" height="10" fill="#000"/>
<text x="2167.20" y="2265" text-anchor="middle" font-family="'Liberation Serif','Times New Roman',serif" font-size="47.5" textLength="44" lengthAdjust="spacingAndGlyphs">90</text>
<text x="2262.00" y="2265" text-anchor="middle" font-family="'Liberation Serif','Times New Roman',serif" font-size="47.5" textLength="66.7" lengthAdjust="spacingAndGlyphs">100</text>
<text x="1305" y="1876.30" text-anchor="end" font-family="'Liberation Serif','Times New Roman',serif" font-size="47.5" textLength="78.5" lengthAdjust="spacingAndGlyphs">0.36</text>
<rect x="1314" y="2040.00" width="9" height="2" fill="#000"/>
<text x="1303" y="2055.80" text-anchor="end" font-family="'Liberation Serif','Times New Roman',serif" font-size="47.5" textLength="76.5" lengthAdjust="spacingAndGlyphs">0.33</text>
<text x="1305.5" y="2233.00" text-anchor="end" font-family="'Liberation Serif','Times New Roman',serif" font-size="47.5" textLength="78.5" lengthAdjust="spacingAndGlyphs">0.30</text>
<line x1="1467.3" y1="2171.5" x2="1556.3" y2="2171.5" stroke="#8C8C8C" stroke-width="6.5" stroke-linecap="round"/>
<text x="1566.3" y="2184.5" font-family="'Liberation Serif','Times New Roman',serif" font-size="41.5" textLength="105.6" lengthAdjust="spacingAndGlyphs">de<tspan dy="4.5">_</tspan><tspan dy="-4.5">w1</tspan></text>
<line x1="1682.3" y1="2171.5" x2="1771.3" y2="2171.5" stroke="#F47474" stroke-width="6.5" stroke-linecap="round"/>
<text x="1781.3" y="2184.5" font-family="'Liberation Serif','Times New Roman',serif" font-size="41.5" textLength="108.2" lengthAdjust="spacingAndGlyphs">de<tspan dy="4.5">_</tspan><tspan dy="-4.5">w2</tspan></text>
<line x1="1897.3" y1="2171.5" x2="1986.3" y2="2171.5" stroke="#5E9AEC" stroke-width="6.5" stroke-linecap="round"/>
<text x="1996.3" y="2184.5" font-family="'Liberation Serif','Times New Roman',serif" font-size="41.5" textLength="105.7" lengthAdjust="spacingAndGlyphs">de<tspan dy="4.5">_</tspan><tspan dy="-4.5">w3</tspan></text>
<text transform="translate(2388,2073.6) scale(0.978,0.948)" x="0" y="28.2" text-anchor="middle" font-family="'Liberation Serif','Noto Serif CJK SC',serif" font-size="73.8">⑤</text>
<text transform="translate(60,1253) rotate(-90)" font-family="'Liberation Serif','Times New Roman',serif" font-size="75">Weights</text>
<text x="1128" y="2351" font-family="'Liberation Serif','Times New Roman',serif" font-size="75" textLength="375.3" lengthAdjust="spacingAndGlyphs">Search times</text>
</svg></body></html>
